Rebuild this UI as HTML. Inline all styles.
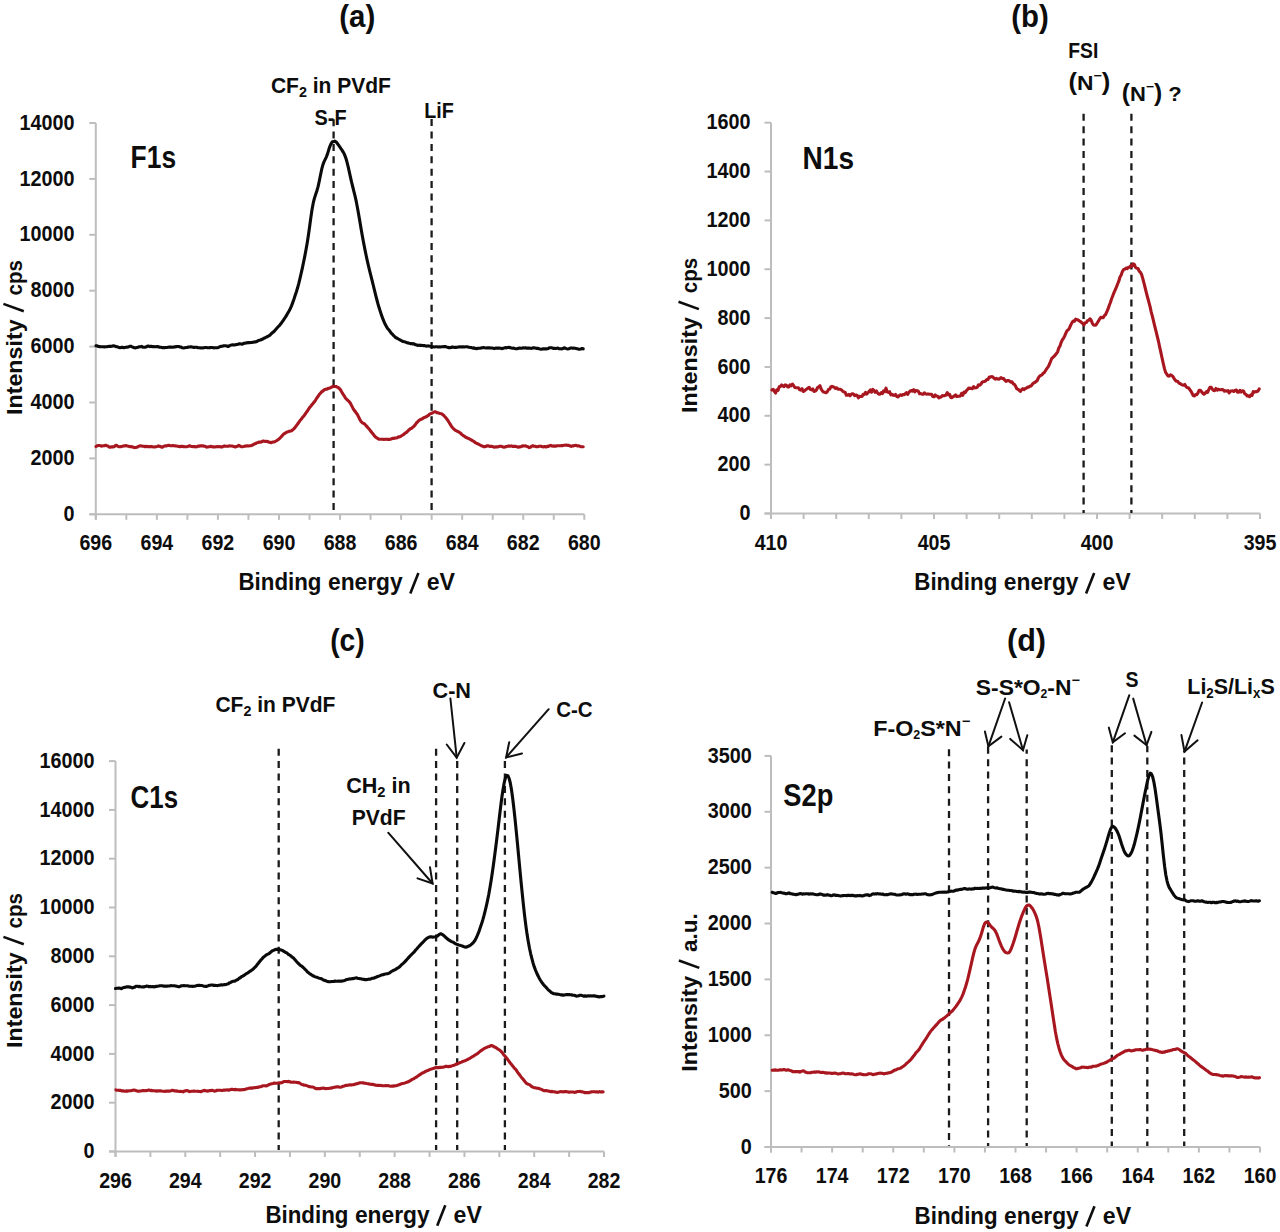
<!DOCTYPE html>
<html><head><meta charset="utf-8"><title>XPS spectra</title>
<style>html,body{margin:0;padding:0;background:#fff;} svg{display:block;} text{font-family:"Liberation Sans", sans-serif;font-weight:bold;fill:#0d0d0d;}</style>
</head><body>
<svg width="1280" height="1232" viewBox="0 0 1280 1232">
<rect width="1280" height="1232" fill="#fff"/>
<line x1="95.8" y1="122.99999999999994" x2="95.8" y2="519.8" stroke="#bdbdbd" stroke-width="2.0"/>
<line x1="89.3" y1="514.3" x2="584.3" y2="514.3" stroke="#bdbdbd" stroke-width="2.0"/>
<line x1="89.3" y1="514.30" x2="95.8" y2="514.30" stroke="#bdbdbd" stroke-width="2.0"/>
<line x1="89.3" y1="458.40" x2="95.8" y2="458.40" stroke="#bdbdbd" stroke-width="2.0"/>
<line x1="89.3" y1="402.50" x2="95.8" y2="402.50" stroke="#bdbdbd" stroke-width="2.0"/>
<line x1="89.3" y1="346.60" x2="95.8" y2="346.60" stroke="#bdbdbd" stroke-width="2.0"/>
<line x1="89.3" y1="290.70" x2="95.8" y2="290.70" stroke="#bdbdbd" stroke-width="2.0"/>
<line x1="89.3" y1="234.80" x2="95.8" y2="234.80" stroke="#bdbdbd" stroke-width="2.0"/>
<line x1="89.3" y1="178.90" x2="95.8" y2="178.90" stroke="#bdbdbd" stroke-width="2.0"/>
<line x1="89.3" y1="123.00" x2="95.8" y2="123.00" stroke="#bdbdbd" stroke-width="2.0"/>
<text x="74.6" y="520.9" font-size="21.2" text-anchor="end" textLength="11.0" lengthAdjust="spacingAndGlyphs" >0</text>
<text x="74.6" y="465.0" font-size="21.2" text-anchor="end" textLength="44.0" lengthAdjust="spacingAndGlyphs" >2000</text>
<text x="74.6" y="409.1" font-size="21.2" text-anchor="end" textLength="44.0" lengthAdjust="spacingAndGlyphs" >4000</text>
<text x="74.6" y="353.2" font-size="21.2" text-anchor="end" textLength="44.0" lengthAdjust="spacingAndGlyphs" >6000</text>
<text x="74.6" y="297.3" font-size="21.2" text-anchor="end" textLength="44.0" lengthAdjust="spacingAndGlyphs" >8000</text>
<text x="74.6" y="241.4" font-size="21.2" text-anchor="end" textLength="55.0" lengthAdjust="spacingAndGlyphs" >10000</text>
<text x="74.6" y="185.5" font-size="21.2" text-anchor="end" textLength="55.0" lengthAdjust="spacingAndGlyphs" >12000</text>
<text x="74.6" y="129.6" font-size="21.2" text-anchor="end" textLength="55.0" lengthAdjust="spacingAndGlyphs" >14000</text>
<line x1="95.80" y1="514.3" x2="95.80" y2="519.8" stroke="#bdbdbd" stroke-width="2.0"/>
<line x1="126.33" y1="514.3" x2="126.33" y2="519.8" stroke="#bdbdbd" stroke-width="2.0"/>
<line x1="156.86" y1="514.3" x2="156.86" y2="519.8" stroke="#bdbdbd" stroke-width="2.0"/>
<line x1="187.39" y1="514.3" x2="187.39" y2="519.8" stroke="#bdbdbd" stroke-width="2.0"/>
<line x1="217.92" y1="514.3" x2="217.92" y2="519.8" stroke="#bdbdbd" stroke-width="2.0"/>
<line x1="248.46" y1="514.3" x2="248.46" y2="519.8" stroke="#bdbdbd" stroke-width="2.0"/>
<line x1="278.99" y1="514.3" x2="278.99" y2="519.8" stroke="#bdbdbd" stroke-width="2.0"/>
<line x1="309.52" y1="514.3" x2="309.52" y2="519.8" stroke="#bdbdbd" stroke-width="2.0"/>
<line x1="340.05" y1="514.3" x2="340.05" y2="519.8" stroke="#bdbdbd" stroke-width="2.0"/>
<line x1="370.58" y1="514.3" x2="370.58" y2="519.8" stroke="#bdbdbd" stroke-width="2.0"/>
<line x1="401.11" y1="514.3" x2="401.11" y2="519.8" stroke="#bdbdbd" stroke-width="2.0"/>
<line x1="431.64" y1="514.3" x2="431.64" y2="519.8" stroke="#bdbdbd" stroke-width="2.0"/>
<line x1="462.17" y1="514.3" x2="462.17" y2="519.8" stroke="#bdbdbd" stroke-width="2.0"/>
<line x1="492.71" y1="514.3" x2="492.71" y2="519.8" stroke="#bdbdbd" stroke-width="2.0"/>
<line x1="523.24" y1="514.3" x2="523.24" y2="519.8" stroke="#bdbdbd" stroke-width="2.0"/>
<line x1="553.77" y1="514.3" x2="553.77" y2="519.8" stroke="#bdbdbd" stroke-width="2.0"/>
<line x1="584.30" y1="514.3" x2="584.30" y2="519.8" stroke="#bdbdbd" stroke-width="2.0"/>
<text x="95.8" y="550.0" font-size="21.2" text-anchor="middle" textLength="32.7" lengthAdjust="spacingAndGlyphs" >696</text>
<text x="156.9" y="550.0" font-size="21.2" text-anchor="middle" textLength="32.7" lengthAdjust="spacingAndGlyphs" >694</text>
<text x="217.9" y="550.0" font-size="21.2" text-anchor="middle" textLength="32.7" lengthAdjust="spacingAndGlyphs" >692</text>
<text x="279.0" y="550.0" font-size="21.2" text-anchor="middle" textLength="32.7" lengthAdjust="spacingAndGlyphs" >690</text>
<text x="340.0" y="550.0" font-size="21.2" text-anchor="middle" textLength="32.7" lengthAdjust="spacingAndGlyphs" >688</text>
<text x="401.1" y="550.0" font-size="21.2" text-anchor="middle" textLength="32.7" lengthAdjust="spacingAndGlyphs" >686</text>
<text x="462.2" y="550.0" font-size="21.2" text-anchor="middle" textLength="32.7" lengthAdjust="spacingAndGlyphs" >684</text>
<text x="523.2" y="550.0" font-size="21.2" text-anchor="middle" textLength="32.7" lengthAdjust="spacingAndGlyphs" >682</text>
<text x="584.3" y="550.0" font-size="21.2" text-anchor="middle" textLength="32.7" lengthAdjust="spacingAndGlyphs" >680</text>
<text x="357.2" y="26.6" font-size="30.5" text-anchor="middle" textLength="36.0" lengthAdjust="spacingAndGlyphs" >(a)</text>
<text x="238.5" y="590.4" font-size="23" text-anchor="start" textLength="83.0" lengthAdjust="spacingAndGlyphs" >Binding</text>
<text x="328.0" y="590.4" font-size="23" text-anchor="start" textLength="74.7" lengthAdjust="spacingAndGlyphs" >energy</text>
<line x1="410.3" y1="593.4" x2="418.4" y2="573.0" stroke="#0d0d0d" stroke-width="2.6" stroke-linecap="butt"/>
<text x="426.7" y="590.4" font-size="23" text-anchor="start" textLength="28.3" lengthAdjust="spacingAndGlyphs" >eV</text>
<text transform="translate(21.9,414.2) rotate(-90)" font-size="22" x="-0.9" textLength="95.9" lengthAdjust="spacingAndGlyphs">Intensity</text>
<line x1="23.8" y1="311.3" x2="3.4" y2="303.9" stroke="#0d0d0d" stroke-width="2.6" stroke-linecap="butt"/>
<text transform="translate(21.9,414.2) rotate(-90)" font-size="22" x="118.8" textLength="35.3" lengthAdjust="spacingAndGlyphs">cps</text>
<text x="130.6" y="167.6" font-size="31.5" text-anchor="start" textLength="45.5" lengthAdjust="spacingAndGlyphs" >F1s</text>
<text x="270.9" y="93.2" font-size="22" text-anchor="start" textLength="120.0" lengthAdjust="spacingAndGlyphs" >CF<tspan font-size="15" dy="3.5">2</tspan><tspan dy="-3.5"> in PVdF</tspan></text>
<text x="314.6" y="125.0" font-size="22.5" text-anchor="start" textLength="32.0" lengthAdjust="spacingAndGlyphs" >S-F</text>
<text x="424.2" y="118.4" font-size="22.5" text-anchor="start" textLength="29.5" lengthAdjust="spacingAndGlyphs" >LiF</text>
<line x1="333.6" y1="118.0" x2="333.6" y2="512.0" stroke="#1a1a1a" stroke-width="2.3" stroke-dasharray="7.0 5.38" stroke-dashoffset="11.16"/>
<line x1="431.6" y1="119.0" x2="431.6" y2="512.0" stroke="#1a1a1a" stroke-width="2.3" stroke-dasharray="7.0 5.38" stroke-dashoffset="12.26"/>
<path d="M96.0,345.8 L97.2,345.9 L98.4,346.5 L99.6,346.6 L100.8,346.8 L102.0,346.7 L103.2,346.7 L104.4,346.9 L105.6,346.7 L106.8,346.8 L108.0,346.5 L109.2,346.4 L110.4,346.4 L111.6,346.2 L112.8,345.9 L114.0,345.9 L115.2,346.3 L116.4,346.8 L117.6,346.8 L118.8,347.5 L120.0,347.8 L121.2,347.4 L122.4,347.2 L123.6,347.7 L124.8,347.5 L126.0,347.3 L127.2,347.1 L128.4,347.0 L129.6,346.3 L130.8,346.2 L132.0,346.9 L133.2,347.3 L134.4,347.7 L135.6,347.9 L136.8,347.5 L138.0,347.2 L139.2,346.7 L140.4,346.7 L141.6,346.4 L142.8,347.1 L144.0,347.3 L145.2,347.2 L146.4,346.8 L147.6,346.1 L148.8,346.1 L150.0,346.6 L151.2,346.3 L152.4,346.7 L153.6,346.5 L154.8,346.7 L156.0,346.8 L157.2,346.5 L158.4,346.7 L159.6,347.2 L160.8,347.3 L162.0,347.6 L163.2,347.5 L164.4,347.8 L165.6,347.5 L166.8,347.5 L168.0,347.3 L169.2,347.1 L170.4,347.1 L171.6,347.1 L172.8,347.2 L174.0,346.9 L175.2,346.9 L176.4,346.6 L177.6,346.5 L178.8,346.5 L180.0,347.0 L181.2,347.1 L182.4,347.8 L183.6,348.0 L184.8,347.7 L186.0,347.5 L187.2,347.5 L188.4,347.0 L189.6,347.0 L190.8,346.7 L192.0,347.0 L193.2,347.4 L194.4,347.4 L195.6,347.2 L196.8,347.3 L198.0,347.7 L199.2,347.8 L200.4,347.9 L201.6,348.0 L202.8,347.9 L204.0,347.8 L205.2,347.5 L206.4,347.5 L207.6,347.8 L208.8,347.7 L210.0,347.6 L211.2,347.5 L212.4,347.5 L213.6,347.9 L214.8,347.7 L216.0,347.8 L217.2,347.7 L218.4,347.4 L219.6,346.8 L220.8,346.4 L222.0,346.2 L223.2,345.9 L224.4,345.8 L225.6,345.8 L226.8,346.0 L228.0,346.5 L229.2,346.0 L230.4,345.2 L231.6,345.0 L232.8,344.8 L234.0,345.0 L235.2,344.9 L236.4,344.5 L237.6,344.5 L238.8,343.8 L240.0,343.9 L241.2,344.0 L242.4,344.1 L243.6,343.4 L244.8,343.2 L246.0,342.9 L247.2,342.9 L248.4,342.5 L249.6,342.6 L250.8,342.5 L252.0,342.4 L253.2,342.2 L254.4,341.9 L255.6,341.9 L256.8,341.6 L258.0,340.7 L259.2,340.3 L260.4,340.0 L261.6,339.5 L262.8,339.0 L264.0,338.2 L265.2,337.7 L266.4,337.1 L267.6,336.5 L268.8,335.8 L270.0,335.1 L271.2,333.8 L272.4,332.8 L273.6,331.8 L274.8,330.6 L276.0,329.2 L277.2,327.8 L278.4,326.5 L279.6,325.3 L280.8,323.8 L282.0,322.1 L283.2,320.5 L284.4,318.6 L285.6,316.9 L286.8,314.9 L288.0,312.8 L289.2,310.8 L290.4,308.4 L291.6,305.6 L292.8,302.4 L294.0,299.0 L295.2,295.3 L296.4,291.7 L297.6,287.8 L298.8,283.4 L300.0,278.4 L301.2,273.2 L302.4,267.8 L303.6,262.0 L304.8,256.1 L306.0,249.8 L307.2,242.9 L308.4,235.2 L309.6,226.7 L310.8,217.9 L312.0,209.8 L313.2,203.2 L314.4,198.4 L315.6,194.6 L316.8,191.0 L318.0,186.9 L319.2,181.5 L320.4,175.5 L321.6,169.7 L322.8,165.1 L324.0,161.8 L325.2,159.3 L326.4,156.8 L327.6,153.6 L328.8,149.6 L330.0,146.1 L331.2,143.5 L332.4,141.7 L333.6,141.6 L334.8,141.1 L336.0,141.8 L337.2,143.3 L338.4,144.9 L339.6,146.6 L340.8,148.4 L342.0,150.1 L343.2,152.1 L344.4,154.3 L345.6,157.3 L346.8,161.3 L348.0,166.1 L349.2,171.4 L350.4,176.8 L351.6,182.2 L352.8,187.0 L354.0,191.9 L355.2,196.7 L356.4,202.2 L357.6,208.5 L358.8,215.2 L360.0,222.3 L361.2,229.5 L362.4,236.3 L363.6,242.8 L364.8,248.9 L366.0,254.8 L367.2,260.4 L368.4,265.7 L369.6,270.7 L370.8,275.4 L372.0,280.1 L373.2,285.0 L374.4,289.9 L375.6,294.9 L376.8,299.5 L378.0,304.0 L379.2,308.1 L380.4,311.8 L381.6,315.4 L382.8,318.7 L384.0,321.7 L385.2,324.3 L386.4,326.4 L387.6,328.5 L388.8,329.8 L390.0,331.4 L391.2,333.1 L392.4,334.2 L393.6,335.6 L394.8,336.7 L396.0,337.7 L397.2,338.2 L398.4,339.0 L399.6,339.7 L400.8,340.3 L402.0,341.0 L403.2,341.5 L404.4,341.7 L405.6,342.1 L406.8,342.7 L408.0,342.9 L409.2,343.3 L410.4,343.6 L411.6,343.6 L412.8,343.9 L414.0,343.8 L415.2,344.6 L416.4,344.7 L417.6,345.5 L418.8,345.1 L420.0,345.4 L421.2,345.2 L422.4,345.5 L423.6,345.6 L424.8,345.6 L426.0,346.1 L427.2,346.0 L428.4,345.9 L429.6,346.3 L430.8,346.3 L432.0,346.6 L433.2,346.8 L434.4,347.0 L435.6,346.8 L436.8,346.8 L438.0,347.0 L439.2,346.9 L440.4,347.0 L441.6,346.7 L442.8,346.8 L444.0,346.6 L445.2,346.5 L446.4,346.9 L447.6,347.2 L448.8,347.8 L450.0,347.6 L451.2,347.5 L452.4,346.9 L453.6,347.2 L454.8,347.4 L456.0,347.4 L457.2,347.3 L458.4,347.0 L459.6,346.8 L460.8,347.0 L462.0,346.8 L463.2,346.9 L464.4,347.0 L465.6,346.8 L466.8,346.7 L468.0,347.0 L469.2,347.3 L470.4,347.5 L471.6,347.6 L472.8,348.1 L474.0,347.9 L475.2,348.5 L476.4,348.6 L477.6,348.4 L478.8,348.3 L480.0,348.2 L481.2,347.9 L482.4,347.7 L483.6,347.5 L484.8,347.8 L486.0,348.0 L487.2,347.9 L488.4,347.8 L489.6,347.9 L490.8,348.0 L492.0,348.0 L493.2,348.3 L494.4,348.6 L495.6,348.1 L496.8,348.0 L498.0,348.1 L499.2,348.0 L500.4,348.3 L501.6,348.6 L502.8,348.4 L504.0,348.1 L505.2,347.6 L506.4,347.9 L507.6,347.5 L508.8,347.4 L510.0,347.6 L511.2,347.9 L512.4,348.3 L513.6,348.1 L514.8,348.5 L516.0,348.8 L517.2,348.7 L518.4,348.3 L519.6,348.1 L520.8,348.3 L522.0,348.2 L523.2,347.8 L524.4,348.0 L525.6,347.8 L526.8,348.2 L528.0,348.0 L529.2,348.1 L530.4,348.3 L531.6,348.4 L532.8,347.8 L534.0,347.9 L535.2,348.0 L536.4,348.4 L537.6,348.4 L538.8,348.6 L540.0,349.0 L541.2,349.2 L542.4,348.9 L543.6,348.9 L544.8,348.9 L546.0,348.9 L547.2,348.7 L548.4,348.4 L549.6,347.7 L550.8,347.7 L552.0,347.8 L553.2,348.4 L554.4,348.3 L555.6,348.5 L556.8,348.2 L558.0,348.1 L559.2,348.8 L560.4,348.8 L561.6,348.9 L562.8,348.6 L564.0,347.9 L565.2,348.1 L566.4,348.6 L567.6,349.0 L568.8,348.7 L570.0,348.3 L571.2,347.9 L572.4,348.3 L573.6,348.1 L574.8,348.3 L576.0,348.5 L577.2,348.8 L578.4,349.1 L579.6,349.3 L580.8,349.0 L582.0,348.5 L583.2,348.8" fill="none" stroke="#0a0a0a" stroke-width="3.1" stroke-linejoin="round" stroke-linecap="round"/>
<path d="M96.0,446.5 L97.2,445.8 L98.4,445.5 L99.6,445.5 L100.8,445.9 L102.0,446.1 L103.2,445.8 L104.4,445.7 L105.6,445.3 L106.8,445.8 L108.0,446.1 L109.2,447.1 L110.4,447.1 L111.6,446.9 L112.8,446.9 L114.0,446.7 L115.2,445.7 L116.4,445.3 L117.6,446.1 L118.8,446.7 L120.0,446.8 L121.2,446.6 L122.4,446.2 L123.6,445.9 L124.8,445.9 L126.0,445.6 L127.2,445.9 L128.4,446.2 L129.6,446.6 L130.8,446.5 L132.0,446.9 L133.2,447.1 L134.4,447.6 L135.6,447.5 L136.8,447.3 L138.0,446.8 L139.2,446.0 L140.4,445.9 L141.6,446.0 L142.8,446.3 L144.0,446.2 L145.2,446.7 L146.4,446.3 L147.6,446.8 L148.8,446.6 L150.0,446.8 L151.2,446.4 L152.4,446.7 L153.6,447.0 L154.8,446.9 L156.0,446.7 L157.2,446.4 L158.4,445.9 L159.6,446.2 L160.8,446.7 L162.0,447.2 L163.2,446.7 L164.4,446.0 L165.6,445.7 L166.8,445.9 L168.0,445.4 L169.2,445.4 L170.4,445.8 L171.6,445.7 L172.8,445.5 L174.0,445.8 L175.2,445.9 L176.4,446.0 L177.6,446.2 L178.8,446.4 L180.0,446.7 L181.2,446.3 L182.4,446.4 L183.6,446.6 L184.8,446.8 L186.0,446.7 L187.2,446.6 L188.4,446.3 L189.6,445.8 L190.8,446.2 L192.0,446.5 L193.2,446.6 L194.4,446.5 L195.6,446.9 L196.8,446.8 L198.0,446.1 L199.2,446.2 L200.4,445.7 L201.6,445.9 L202.8,445.8 L204.0,446.2 L205.2,446.2 L206.4,447.1 L207.6,447.0 L208.8,446.7 L210.0,446.6 L211.2,446.3 L212.4,446.9 L213.6,446.9 L214.8,447.0 L216.0,446.7 L217.2,446.6 L218.4,446.8 L219.6,446.6 L220.8,446.9 L222.0,447.0 L223.2,446.4 L224.4,445.9 L225.6,446.2 L226.8,446.2 L228.0,446.2 L229.2,445.9 L230.4,446.0 L231.6,446.0 L232.8,446.3 L234.0,446.6 L235.2,447.0 L236.4,446.5 L237.6,446.2 L238.8,445.3 L240.0,446.0 L241.2,446.6 L242.4,446.8 L243.6,446.5 L244.8,446.1 L246.0,446.1 L247.2,445.8 L248.4,446.0 L249.6,445.7 L250.8,445.7 L252.0,445.3 L253.2,444.6 L254.4,444.0 L255.6,443.5 L256.8,442.9 L258.0,442.5 L259.2,442.0 L260.4,442.2 L261.6,441.8 L262.8,441.1 L264.0,441.1 L265.2,441.5 L266.4,441.2 L267.6,441.5 L268.8,442.1 L270.0,442.2 L271.2,442.7 L272.4,442.1 L273.6,442.0 L274.8,441.7 L276.0,441.0 L277.2,440.3 L278.4,439.4 L279.6,438.5 L280.8,437.2 L282.0,435.9 L283.2,434.5 L284.4,433.6 L285.6,432.9 L286.8,432.1 L288.0,431.7 L289.2,431.2 L290.4,431.1 L291.6,430.7 L292.8,429.8 L294.0,428.7 L295.2,427.2 L296.4,425.6 L297.6,424.0 L298.8,422.3 L300.0,420.6 L301.2,419.2 L302.4,417.6 L303.6,416.2 L304.8,414.7 L306.0,412.9 L307.2,411.3 L308.4,409.4 L309.6,407.6 L310.8,406.2 L312.0,404.6 L313.2,403.3 L314.4,401.7 L315.6,400.1 L316.8,398.0 L318.0,396.5 L319.2,394.6 L320.4,393.2 L321.6,391.9 L322.8,391.1 L324.0,390.0 L325.2,389.4 L326.4,389.3 L327.6,388.6 L328.8,388.4 L330.0,388.0 L331.2,387.3 L332.4,386.7 L333.6,386.2 L334.8,386.5 L336.0,386.5 L337.2,387.1 L338.4,387.7 L339.6,388.7 L340.8,390.3 L342.0,392.4 L343.2,394.4 L344.4,396.2 L345.6,398.2 L346.8,399.5 L348.0,400.5 L349.2,401.7 L350.4,403.3 L351.6,405.6 L352.8,407.9 L354.0,410.0 L355.2,411.5 L356.4,413.1 L357.6,414.9 L358.8,417.4 L360.0,419.8 L361.2,421.7 L362.4,422.8 L363.6,423.4 L364.8,424.1 L366.0,425.6 L367.2,426.9 L368.4,428.2 L369.6,429.6 L370.8,431.2 L372.0,432.8 L373.2,434.1 L374.4,435.9 L375.6,437.0 L376.8,437.9 L378.0,438.6 L379.2,439.3 L380.4,439.2 L381.6,439.2 L382.8,439.2 L384.0,439.5 L385.2,439.2 L386.4,439.2 L387.6,439.4 L388.8,439.3 L390.0,439.4 L391.2,439.0 L392.4,438.4 L393.6,438.4 L394.8,438.1 L396.0,438.0 L397.2,437.7 L398.4,436.9 L399.6,436.9 L400.8,436.3 L402.0,435.5 L403.2,434.7 L404.4,433.7 L405.6,432.9 L406.8,432.1 L408.0,430.9 L409.2,429.7 L410.4,428.7 L411.6,428.3 L412.8,427.2 L414.0,426.3 L415.2,424.8 L416.4,423.0 L417.6,421.9 L418.8,420.5 L420.0,419.7 L421.2,419.2 L422.4,418.7 L423.6,417.9 L424.8,417.2 L426.0,416.9 L427.2,416.1 L428.4,415.4 L429.6,414.2 L430.8,413.6 L432.0,413.2 L433.2,412.5 L434.4,411.7 L435.6,411.8 L436.8,412.6 L438.0,412.8 L439.2,413.2 L440.4,413.5 L441.6,413.7 L442.8,414.8 L444.0,415.6 L445.2,417.1 L446.4,418.5 L447.6,420.0 L448.8,422.0 L450.0,423.9 L451.2,425.8 L452.4,427.5 L453.6,428.8 L454.8,429.9 L456.0,430.6 L457.2,431.2 L458.4,431.7 L459.6,432.5 L460.8,433.4 L462.0,434.6 L463.2,435.6 L464.4,436.2 L465.6,437.2 L466.8,437.8 L468.0,438.3 L469.2,438.7 L470.4,439.5 L471.6,440.1 L472.8,440.8 L474.0,441.5 L475.2,442.6 L476.4,443.2 L477.6,443.7 L478.8,444.3 L480.0,445.0 L481.2,445.7 L482.4,446.0 L483.6,446.8 L484.8,446.6 L486.0,446.4 L487.2,445.7 L488.4,445.9 L489.6,446.4 L490.8,446.4 L492.0,446.4 L493.2,446.8 L494.4,447.2 L495.6,446.9 L496.8,446.7 L498.0,446.9 L499.2,446.4 L500.4,446.3 L501.6,446.3 L502.8,447.0 L504.0,447.1 L505.2,447.0 L506.4,446.5 L507.6,446.2 L508.8,445.9 L510.0,446.3 L511.2,445.9 L512.4,446.4 L513.6,446.4 L514.8,446.2 L516.0,446.5 L517.2,446.9 L518.4,447.1 L519.6,446.9 L520.8,446.8 L522.0,446.1 L523.2,445.9 L524.4,446.0 L525.6,445.8 L526.8,446.5 L528.0,446.8 L529.2,447.6 L530.4,447.2 L531.6,446.3 L532.8,445.7 L534.0,446.3 L535.2,446.3 L536.4,446.8 L537.6,446.8 L538.8,446.2 L540.0,446.3 L541.2,446.3 L542.4,446.8 L543.6,446.9 L544.8,446.5 L546.0,447.0 L547.2,446.4 L548.4,446.4 L549.6,445.7 L550.8,445.4 L552.0,446.0 L553.2,446.1 L554.4,445.9 L555.6,446.2 L556.8,445.8 L558.0,445.8 L559.2,445.8 L560.4,445.7 L561.6,445.5 L562.8,445.6 L564.0,445.3 L565.2,445.3 L566.4,445.0 L567.6,445.4 L568.8,445.3 L570.0,446.0 L571.2,446.4 L572.4,445.8 L573.6,445.9 L574.8,445.5 L576.0,445.4 L577.2,445.9 L578.4,445.7 L579.6,446.1 L580.8,446.7 L582.0,446.8 L583.2,446.8" fill="none" stroke="#a8161f" stroke-width="3.1" stroke-linejoin="round" stroke-linecap="round"/>
<line x1="771.0" y1="122.69999999999999" x2="771.0" y2="519.0" stroke="#bdbdbd" stroke-width="2.0"/>
<line x1="764.5" y1="513.5" x2="1260.0" y2="513.5" stroke="#bdbdbd" stroke-width="2.0"/>
<line x1="764.5" y1="513.50" x2="771.0" y2="513.50" stroke="#bdbdbd" stroke-width="2.0"/>
<line x1="764.5" y1="464.65" x2="771.0" y2="464.65" stroke="#bdbdbd" stroke-width="2.0"/>
<line x1="764.5" y1="415.80" x2="771.0" y2="415.80" stroke="#bdbdbd" stroke-width="2.0"/>
<line x1="764.5" y1="366.95" x2="771.0" y2="366.95" stroke="#bdbdbd" stroke-width="2.0"/>
<line x1="764.5" y1="318.10" x2="771.0" y2="318.10" stroke="#bdbdbd" stroke-width="2.0"/>
<line x1="764.5" y1="269.25" x2="771.0" y2="269.25" stroke="#bdbdbd" stroke-width="2.0"/>
<line x1="764.5" y1="220.40" x2="771.0" y2="220.40" stroke="#bdbdbd" stroke-width="2.0"/>
<line x1="764.5" y1="171.55" x2="771.0" y2="171.55" stroke="#bdbdbd" stroke-width="2.0"/>
<line x1="764.5" y1="122.70" x2="771.0" y2="122.70" stroke="#bdbdbd" stroke-width="2.0"/>
<text x="750.5" y="520.1" font-size="21.2" text-anchor="end" textLength="11.0" lengthAdjust="spacingAndGlyphs" >0</text>
<text x="750.5" y="471.2" font-size="21.2" text-anchor="end" textLength="33.0" lengthAdjust="spacingAndGlyphs" >200</text>
<text x="750.5" y="422.4" font-size="21.2" text-anchor="end" textLength="33.0" lengthAdjust="spacingAndGlyphs" >400</text>
<text x="750.5" y="373.6" font-size="21.2" text-anchor="end" textLength="33.0" lengthAdjust="spacingAndGlyphs" >600</text>
<text x="750.5" y="324.7" font-size="21.2" text-anchor="end" textLength="33.0" lengthAdjust="spacingAndGlyphs" >800</text>
<text x="750.5" y="275.9" font-size="21.2" text-anchor="end" textLength="44.0" lengthAdjust="spacingAndGlyphs" >1000</text>
<text x="750.5" y="227.0" font-size="21.2" text-anchor="end" textLength="44.0" lengthAdjust="spacingAndGlyphs" >1200</text>
<text x="750.5" y="178.2" font-size="21.2" text-anchor="end" textLength="44.0" lengthAdjust="spacingAndGlyphs" >1400</text>
<text x="750.5" y="129.3" font-size="21.2" text-anchor="end" textLength="44.0" lengthAdjust="spacingAndGlyphs" >1600</text>
<line x1="771.00" y1="513.5" x2="771.00" y2="519.0" stroke="#bdbdbd" stroke-width="2.0"/>
<line x1="803.60" y1="513.5" x2="803.60" y2="519.0" stroke="#bdbdbd" stroke-width="2.0"/>
<line x1="836.20" y1="513.5" x2="836.20" y2="519.0" stroke="#bdbdbd" stroke-width="2.0"/>
<line x1="868.80" y1="513.5" x2="868.80" y2="519.0" stroke="#bdbdbd" stroke-width="2.0"/>
<line x1="901.40" y1="513.5" x2="901.40" y2="519.0" stroke="#bdbdbd" stroke-width="2.0"/>
<line x1="934.00" y1="513.5" x2="934.00" y2="519.0" stroke="#bdbdbd" stroke-width="2.0"/>
<line x1="966.60" y1="513.5" x2="966.60" y2="519.0" stroke="#bdbdbd" stroke-width="2.0"/>
<line x1="999.20" y1="513.5" x2="999.20" y2="519.0" stroke="#bdbdbd" stroke-width="2.0"/>
<line x1="1031.80" y1="513.5" x2="1031.80" y2="519.0" stroke="#bdbdbd" stroke-width="2.0"/>
<line x1="1064.40" y1="513.5" x2="1064.40" y2="519.0" stroke="#bdbdbd" stroke-width="2.0"/>
<line x1="1097.00" y1="513.5" x2="1097.00" y2="519.0" stroke="#bdbdbd" stroke-width="2.0"/>
<line x1="1129.60" y1="513.5" x2="1129.60" y2="519.0" stroke="#bdbdbd" stroke-width="2.0"/>
<line x1="1162.20" y1="513.5" x2="1162.20" y2="519.0" stroke="#bdbdbd" stroke-width="2.0"/>
<line x1="1194.80" y1="513.5" x2="1194.80" y2="519.0" stroke="#bdbdbd" stroke-width="2.0"/>
<line x1="1227.40" y1="513.5" x2="1227.40" y2="519.0" stroke="#bdbdbd" stroke-width="2.0"/>
<line x1="1260.00" y1="513.5" x2="1260.00" y2="519.0" stroke="#bdbdbd" stroke-width="2.0"/>
<text x="771.0" y="550.0" font-size="21.2" text-anchor="middle" textLength="32.7" lengthAdjust="spacingAndGlyphs" >410</text>
<text x="934.0" y="550.0" font-size="21.2" text-anchor="middle" textLength="32.7" lengthAdjust="spacingAndGlyphs" >405</text>
<text x="1097.0" y="550.0" font-size="21.2" text-anchor="middle" textLength="32.7" lengthAdjust="spacingAndGlyphs" >400</text>
<text x="1260.0" y="550.0" font-size="21.2" text-anchor="middle" textLength="32.7" lengthAdjust="spacingAndGlyphs" >395</text>
<text x="1030.0" y="26.6" font-size="30.5" text-anchor="middle" textLength="37.5" lengthAdjust="spacingAndGlyphs" >(b)</text>
<text x="914.3" y="590.4" font-size="23" text-anchor="start" textLength="83.0" lengthAdjust="spacingAndGlyphs" >Binding</text>
<text x="1003.8" y="590.4" font-size="23" text-anchor="start" textLength="74.7" lengthAdjust="spacingAndGlyphs" >energy</text>
<line x1="1086.1" y1="593.4" x2="1094.2" y2="573.0" stroke="#0d0d0d" stroke-width="2.6" stroke-linecap="butt"/>
<text x="1102.5" y="590.4" font-size="23" text-anchor="start" textLength="28.3" lengthAdjust="spacingAndGlyphs" >eV</text>
<text transform="translate(697.0,412.0) rotate(-90)" font-size="22" x="-0.9" textLength="95.9" lengthAdjust="spacingAndGlyphs">Intensity</text>
<line x1="698.9" y1="309.1" x2="678.5" y2="301.7" stroke="#0d0d0d" stroke-width="2.6" stroke-linecap="butt"/>
<text transform="translate(697.0,412.0) rotate(-90)" font-size="22" x="118.8" textLength="35.3" lengthAdjust="spacingAndGlyphs">cps</text>
<text x="802.6" y="169.3" font-size="31.5" text-anchor="start" textLength="51.5" lengthAdjust="spacingAndGlyphs" >N1s</text>
<text x="1068.3" y="58.3" font-size="21.5" text-anchor="start" textLength="30.0" lengthAdjust="spacingAndGlyphs" >FSI</text>
<text x="1068.4" y="89.8" font-size="20.5" text-anchor="start" textLength="42.0" lengthAdjust="spacingAndGlyphs" ><tspan font-size="23">(</tspan>N<tspan font-size="13" dy="-9.5">−</tspan><tspan dy="9.5" font-size="23">)</tspan></text>
<text x="1121.8" y="100.5" font-size="20.5" text-anchor="start" textLength="60.0" lengthAdjust="spacingAndGlyphs" ><tspan font-size="23">(</tspan>N<tspan font-size="13" dy="-9.5">−</tspan><tspan dy="9.5" font-size="23">)</tspan> ?</text>
<line x1="1083.6" y1="113.8" x2="1083.6" y2="513.0" stroke="#1a1a1a" stroke-width="2.3" stroke-dasharray="7.0 5.38" stroke-dashoffset="12.34"/>
<line x1="1131.4" y1="113.8" x2="1131.4" y2="513.0" stroke="#1a1a1a" stroke-width="2.3" stroke-dasharray="7.0 5.38" stroke-dashoffset="12.34"/>
<path d="M772.0,390.0 L773.2,389.4 L774.4,391.4 L775.6,393.0 L776.8,389.8 L778.0,390.4 L779.2,386.7 L780.4,386.5 L781.6,384.9 L782.8,386.0 L784.0,386.7 L785.2,384.9 L786.4,385.3 L787.6,386.9 L788.8,386.9 L790.0,384.8 L791.2,385.8 L792.4,384.1 L793.6,385.5 L794.8,387.5 L796.0,387.7 L797.2,387.7 L798.4,387.7 L799.6,389.8 L800.8,390.1 L802.0,388.7 L803.2,391.5 L804.4,390.9 L805.6,389.8 L806.8,389.0 L808.0,388.1 L809.2,387.4 L810.4,389.4 L811.6,389.9 L812.8,389.0 L814.0,391.4 L815.2,391.1 L816.4,390.0 L817.6,387.5 L818.8,386.8 L820.0,385.7 L821.2,389.2 L822.4,391.0 L823.6,391.9 L824.8,392.2 L826.0,392.7 L827.2,391.9 L828.4,389.6 L829.6,389.3 L830.8,387.0 L832.0,386.4 L833.2,386.8 L834.4,387.4 L835.6,388.5 L836.8,387.8 L838.0,389.1 L839.2,389.3 L840.4,389.3 L841.6,390.0 L842.8,391.3 L844.0,392.0 L845.2,392.4 L846.4,395.3 L847.6,395.3 L848.8,394.4 L850.0,395.8 L851.2,394.3 L852.4,393.7 L853.6,394.2 L854.8,395.7 L856.0,395.0 L857.2,395.5 L858.4,397.8 L859.6,396.4 L860.8,396.5 L862.0,396.5 L863.2,394.2 L864.4,394.4 L865.6,392.4 L866.8,394.0 L868.0,392.7 L869.2,391.4 L870.4,389.9 L871.6,392.2 L872.8,389.4 L874.0,390.6 L875.2,392.3 L876.4,391.0 L877.6,393.0 L878.8,394.2 L880.0,394.1 L881.2,392.6 L882.4,393.6 L883.6,390.9 L884.8,391.6 L886.0,388.2 L887.2,391.8 L888.4,392.5 L889.6,391.7 L890.8,394.8 L892.0,394.3 L893.2,395.3 L894.4,395.4 L895.6,394.4 L896.8,396.6 L898.0,396.9 L899.2,395.6 L900.4,394.9 L901.6,395.4 L902.8,394.5 L904.0,394.7 L905.2,393.9 L906.4,392.7 L907.6,394.4 L908.8,392.5 L910.0,391.2 L911.2,390.5 L912.4,391.1 L913.6,389.7 L914.8,391.8 L916.0,390.4 L917.2,390.7 L918.4,391.4 L919.6,393.7 L920.8,393.6 L922.0,394.2 L923.2,394.2 L924.4,392.8 L925.6,393.9 L926.8,394.3 L928.0,393.9 L929.2,394.3 L930.4,394.3 L931.6,394.2 L932.8,396.5 L934.0,396.8 L935.2,395.0 L936.4,395.9 L937.6,396.2 L938.8,397.9 L940.0,397.1 L941.2,396.9 L942.4,395.6 L943.6,395.7 L944.8,395.6 L946.0,395.1 L947.2,392.6 L948.4,394.8 L949.6,394.4 L950.8,397.4 L952.0,397.7 L953.2,396.6 L954.4,396.0 L955.6,394.9 L956.8,396.6 L958.0,396.2 L959.2,396.2 L960.4,395.9 L961.6,393.4 L962.8,395.3 L964.0,392.0 L965.2,392.7 L966.4,390.7 L967.6,389.5 L968.8,388.0 L970.0,388.5 L971.2,388.2 L972.4,388.7 L973.6,386.7 L974.8,387.9 L976.0,387.8 L977.2,387.4 L978.4,384.9 L979.6,385.2 L980.8,384.3 L982.0,382.4 L983.2,381.7 L984.4,381.5 L985.6,380.9 L986.8,379.5 L988.0,379.5 L989.2,377.1 L990.4,377.2 L991.6,376.5 L992.8,376.9 L994.0,378.2 L995.2,379.1 L996.4,378.3 L997.6,379.0 L998.8,379.2 L1000.0,378.4 L1001.2,377.7 L1002.4,378.6 L1003.6,378.5 L1004.8,380.2 L1006.0,381.3 L1007.2,380.6 L1008.4,380.5 L1009.6,381.1 L1010.8,382.2 L1012.0,381.8 L1013.2,383.8 L1014.4,384.4 L1015.6,386.1 L1016.8,388.9 L1018.0,389.3 L1019.2,390.3 L1020.4,391.4 L1021.6,389.8 L1022.8,388.6 L1024.0,389.7 L1025.2,388.5 L1026.4,388.2 L1027.6,387.1 L1028.8,387.2 L1030.0,386.1 L1031.2,386.0 L1032.4,384.2 L1033.6,383.0 L1034.8,382.5 L1036.0,381.6 L1037.2,380.5 L1038.4,377.9 L1039.6,376.2 L1040.8,375.4 L1042.0,374.9 L1043.2,373.3 L1044.4,372.4 L1045.6,370.5 L1046.8,368.6 L1048.0,367.1 L1049.2,364.7 L1050.4,361.8 L1051.6,358.7 L1052.8,357.5 L1054.0,356.4 L1055.2,355.1 L1056.4,353.5 L1057.6,351.8 L1058.8,348.1 L1060.0,345.9 L1061.2,342.3 L1062.4,339.7 L1063.6,338.1 L1064.8,335.7 L1066.0,332.8 L1067.2,330.5 L1068.4,329.7 L1069.6,327.7 L1070.8,324.9 L1072.0,322.6 L1073.2,321.0 L1074.4,321.4 L1075.6,319.1 L1076.8,319.7 L1078.0,319.9 L1079.2,320.8 L1080.4,321.6 L1081.6,322.5 L1082.8,323.6 L1084.0,324.8 L1085.2,322.7 L1086.4,322.5 L1087.6,320.6 L1088.8,320.2 L1090.0,318.8 L1091.2,320.3 L1092.4,323.4 L1093.6,325.0 L1094.8,325.3 L1096.0,325.0 L1097.2,323.0 L1098.4,321.2 L1099.6,319.1 L1100.8,317.3 L1102.0,317.6 L1103.2,317.7 L1104.4,315.6 L1105.6,314.5 L1106.8,311.8 L1108.0,309.2 L1109.2,305.5 L1110.4,302.5 L1111.6,298.8 L1112.8,295.7 L1114.0,292.7 L1115.2,289.9 L1116.4,287.1 L1117.6,284.0 L1118.8,281.2 L1120.0,277.0 L1121.2,275.0 L1122.4,271.5 L1123.6,269.6 L1124.8,269.3 L1126.0,268.0 L1127.2,268.6 L1128.4,267.3 L1129.6,267.3 L1130.8,265.6 L1132.0,266.3 L1133.2,263.8 L1134.4,264.6 L1135.6,267.5 L1136.8,268.3 L1138.0,268.5 L1139.2,271.1 L1140.4,272.3 L1141.6,274.5 L1142.8,278.6 L1144.0,283.2 L1145.2,288.0 L1146.4,292.9 L1147.6,297.5 L1148.8,301.8 L1150.0,306.4 L1151.2,311.8 L1152.4,316.3 L1153.6,321.4 L1154.8,326.3 L1156.0,331.2 L1157.2,336.2 L1158.4,341.0 L1159.6,346.8 L1160.8,352.1 L1162.0,357.7 L1163.2,363.1 L1164.4,368.4 L1165.6,372.4 L1166.8,374.1 L1168.0,376.0 L1169.2,376.1 L1170.4,374.9 L1171.6,375.3 L1172.8,376.4 L1174.0,378.4 L1175.2,380.1 L1176.4,381.3 L1177.6,381.2 L1178.8,383.0 L1180.0,383.5 L1181.2,384.3 L1182.4,385.0 L1183.6,385.3 L1184.8,384.5 L1186.0,386.6 L1187.2,387.6 L1188.4,387.7 L1189.6,389.3 L1190.8,391.0 L1192.0,393.1 L1193.2,395.6 L1194.4,395.9 L1195.6,394.6 L1196.8,394.7 L1198.0,392.9 L1199.2,390.2 L1200.4,390.2 L1201.6,391.7 L1202.8,393.3 L1204.0,394.2 L1205.2,393.3 L1206.4,391.7 L1207.6,392.3 L1208.8,389.4 L1210.0,387.3 L1211.2,387.3 L1212.4,389.3 L1213.6,390.4 L1214.8,390.6 L1216.0,388.5 L1217.2,390.2 L1218.4,389.3 L1219.6,389.7 L1220.8,389.8 L1222.0,389.6 L1223.2,389.8 L1224.4,391.2 L1225.6,390.8 L1226.8,391.1 L1228.0,390.7 L1229.2,392.9 L1230.4,391.1 L1231.6,391.0 L1232.8,390.9 L1234.0,391.5 L1235.2,390.2 L1236.4,390.0 L1237.6,392.2 L1238.8,392.3 L1240.0,390.3 L1241.2,392.0 L1242.4,390.7 L1243.6,391.2 L1244.8,393.9 L1246.0,394.4 L1247.2,396.0 L1248.4,395.7 L1249.6,396.7 L1250.8,394.9 L1252.0,395.5 L1253.2,391.6 L1254.4,392.2 L1255.6,391.5 L1256.8,391.6 L1258.0,391.0 L1259.2,388.9" fill="none" stroke="#a8161f" stroke-width="3.1" stroke-linejoin="round" stroke-linecap="round"/>
<line x1="115.5" y1="761.1" x2="115.5" y2="1157.0" stroke="#bdbdbd" stroke-width="2.0"/>
<line x1="109.0" y1="1151.5" x2="604.0" y2="1151.5" stroke="#bdbdbd" stroke-width="2.0"/>
<line x1="109.0" y1="1151.50" x2="115.5" y2="1151.50" stroke="#bdbdbd" stroke-width="2.0"/>
<line x1="109.0" y1="1102.70" x2="115.5" y2="1102.70" stroke="#bdbdbd" stroke-width="2.0"/>
<line x1="109.0" y1="1053.90" x2="115.5" y2="1053.90" stroke="#bdbdbd" stroke-width="2.0"/>
<line x1="109.0" y1="1005.10" x2="115.5" y2="1005.10" stroke="#bdbdbd" stroke-width="2.0"/>
<line x1="109.0" y1="956.30" x2="115.5" y2="956.30" stroke="#bdbdbd" stroke-width="2.0"/>
<line x1="109.0" y1="907.50" x2="115.5" y2="907.50" stroke="#bdbdbd" stroke-width="2.0"/>
<line x1="109.0" y1="858.70" x2="115.5" y2="858.70" stroke="#bdbdbd" stroke-width="2.0"/>
<line x1="109.0" y1="809.90" x2="115.5" y2="809.90" stroke="#bdbdbd" stroke-width="2.0"/>
<line x1="109.0" y1="761.10" x2="115.5" y2="761.10" stroke="#bdbdbd" stroke-width="2.0"/>
<text x="94.4" y="1158.1" font-size="21.2" text-anchor="end" textLength="11.0" lengthAdjust="spacingAndGlyphs" >0</text>
<text x="94.4" y="1109.3" font-size="21.2" text-anchor="end" textLength="44.0" lengthAdjust="spacingAndGlyphs" >2000</text>
<text x="94.4" y="1060.5" font-size="21.2" text-anchor="end" textLength="44.0" lengthAdjust="spacingAndGlyphs" >4000</text>
<text x="94.4" y="1011.7" font-size="21.2" text-anchor="end" textLength="44.0" lengthAdjust="spacingAndGlyphs" >6000</text>
<text x="94.4" y="962.9" font-size="21.2" text-anchor="end" textLength="44.0" lengthAdjust="spacingAndGlyphs" >8000</text>
<text x="94.4" y="914.1" font-size="21.2" text-anchor="end" textLength="55.0" lengthAdjust="spacingAndGlyphs" >10000</text>
<text x="94.4" y="865.3" font-size="21.2" text-anchor="end" textLength="55.0" lengthAdjust="spacingAndGlyphs" >12000</text>
<text x="94.4" y="816.5" font-size="21.2" text-anchor="end" textLength="55.0" lengthAdjust="spacingAndGlyphs" >14000</text>
<text x="94.4" y="767.7" font-size="21.2" text-anchor="end" textLength="55.0" lengthAdjust="spacingAndGlyphs" >16000</text>
<line x1="115.50" y1="1151.5" x2="115.50" y2="1157.0" stroke="#bdbdbd" stroke-width="2.0"/>
<line x1="150.39" y1="1151.5" x2="150.39" y2="1157.0" stroke="#bdbdbd" stroke-width="2.0"/>
<line x1="185.29" y1="1151.5" x2="185.29" y2="1157.0" stroke="#bdbdbd" stroke-width="2.0"/>
<line x1="220.18" y1="1151.5" x2="220.18" y2="1157.0" stroke="#bdbdbd" stroke-width="2.0"/>
<line x1="255.07" y1="1151.5" x2="255.07" y2="1157.0" stroke="#bdbdbd" stroke-width="2.0"/>
<line x1="289.96" y1="1151.5" x2="289.96" y2="1157.0" stroke="#bdbdbd" stroke-width="2.0"/>
<line x1="324.86" y1="1151.5" x2="324.86" y2="1157.0" stroke="#bdbdbd" stroke-width="2.0"/>
<line x1="359.75" y1="1151.5" x2="359.75" y2="1157.0" stroke="#bdbdbd" stroke-width="2.0"/>
<line x1="394.64" y1="1151.5" x2="394.64" y2="1157.0" stroke="#bdbdbd" stroke-width="2.0"/>
<line x1="429.54" y1="1151.5" x2="429.54" y2="1157.0" stroke="#bdbdbd" stroke-width="2.0"/>
<line x1="464.43" y1="1151.5" x2="464.43" y2="1157.0" stroke="#bdbdbd" stroke-width="2.0"/>
<line x1="499.32" y1="1151.5" x2="499.32" y2="1157.0" stroke="#bdbdbd" stroke-width="2.0"/>
<line x1="534.21" y1="1151.5" x2="534.21" y2="1157.0" stroke="#bdbdbd" stroke-width="2.0"/>
<line x1="569.11" y1="1151.5" x2="569.11" y2="1157.0" stroke="#bdbdbd" stroke-width="2.0"/>
<line x1="604.00" y1="1151.5" x2="604.00" y2="1157.0" stroke="#bdbdbd" stroke-width="2.0"/>
<text x="115.5" y="1187.7" font-size="21.2" text-anchor="middle" textLength="32.7" lengthAdjust="spacingAndGlyphs" >296</text>
<text x="185.3" y="1187.7" font-size="21.2" text-anchor="middle" textLength="32.7" lengthAdjust="spacingAndGlyphs" >294</text>
<text x="255.1" y="1187.7" font-size="21.2" text-anchor="middle" textLength="32.7" lengthAdjust="spacingAndGlyphs" >292</text>
<text x="324.9" y="1187.7" font-size="21.2" text-anchor="middle" textLength="32.7" lengthAdjust="spacingAndGlyphs" >290</text>
<text x="394.6" y="1187.7" font-size="21.2" text-anchor="middle" textLength="32.7" lengthAdjust="spacingAndGlyphs" >288</text>
<text x="464.4" y="1187.7" font-size="21.2" text-anchor="middle" textLength="32.7" lengthAdjust="spacingAndGlyphs" >286</text>
<text x="534.2" y="1187.7" font-size="21.2" text-anchor="middle" textLength="32.7" lengthAdjust="spacingAndGlyphs" >284</text>
<text x="604.0" y="1187.7" font-size="21.2" text-anchor="middle" textLength="32.7" lengthAdjust="spacingAndGlyphs" >282</text>
<text x="347.4" y="651.4" font-size="30.5" text-anchor="middle" textLength="34.5" lengthAdjust="spacingAndGlyphs" >(c)</text>
<text x="265.4" y="1222.7" font-size="23" text-anchor="start" textLength="83.0" lengthAdjust="spacingAndGlyphs" >Binding</text>
<text x="354.9" y="1222.7" font-size="23" text-anchor="start" textLength="74.7" lengthAdjust="spacingAndGlyphs" >energy</text>
<line x1="437.2" y1="1225.7" x2="445.3" y2="1205.3" stroke="#0d0d0d" stroke-width="2.6" stroke-linecap="butt"/>
<text x="453.6" y="1222.7" font-size="23" text-anchor="start" textLength="28.3" lengthAdjust="spacingAndGlyphs" >eV</text>
<text transform="translate(21.9,1047.2) rotate(-90)" font-size="22" x="-0.9" textLength="95.9" lengthAdjust="spacingAndGlyphs">Intensity</text>
<line x1="23.8" y1="944.3" x2="3.4" y2="936.9" stroke="#0d0d0d" stroke-width="2.6" stroke-linecap="butt"/>
<text transform="translate(21.9,1047.2) rotate(-90)" font-size="22" x="118.8" textLength="35.3" lengthAdjust="spacingAndGlyphs">cps</text>
<text x="130.6" y="807.6" font-size="31.5" text-anchor="start" textLength="47.5" lengthAdjust="spacingAndGlyphs" >C1s</text>
<text x="215.4" y="712.3" font-size="22" text-anchor="start" textLength="120.0" lengthAdjust="spacingAndGlyphs" >CF<tspan font-size="15" dy="3.5">2</tspan><tspan dy="-3.5"> in PVdF</tspan></text>
<text x="432.5" y="698.2" font-size="22.5" text-anchor="start" textLength="38.5" lengthAdjust="spacingAndGlyphs" >C-N</text>
<text x="556.2" y="716.7" font-size="22.5" text-anchor="start" textLength="36.5" lengthAdjust="spacingAndGlyphs" >C-C</text>
<text x="346.2" y="793.3" font-size="22" text-anchor="start" textLength="64.5" lengthAdjust="spacingAndGlyphs" >CH<tspan font-size="15" dy="3.5">2</tspan><tspan dy="-3.5"> in</tspan></text>
<text x="351.7" y="824.7" font-size="22" text-anchor="start" textLength="54.0" lengthAdjust="spacingAndGlyphs" >PVdF</text>
<line x1="278.7" y1="748.7" x2="278.7" y2="1150.0" stroke="#1a1a1a" stroke-width="2.3" stroke-dasharray="7.0 5.38" stroke-dashoffset="12.34"/>
<line x1="436.1" y1="748.7" x2="436.1" y2="1150.0" stroke="#1a1a1a" stroke-width="2.3" stroke-dasharray="7.0 5.38" stroke-dashoffset="12.34"/>
<line x1="457.2" y1="758.0" x2="457.2" y2="1150.0" stroke="#1a1a1a" stroke-width="2.3" stroke-dasharray="7.0 5.38" stroke-dashoffset="9.26"/>
<line x1="504.9" y1="758.5" x2="504.9" y2="1150.0" stroke="#1a1a1a" stroke-width="2.3" stroke-dasharray="7.0 5.38" stroke-dashoffset="9.76"/>
<line x1="450.4" y1="698.5" x2="456.7" y2="757.6" stroke="#111" stroke-width="2.0" stroke-linecap="round"/>
<polyline points="446.7,744.5 456.7,757.6 464.4,743.0" fill="none" stroke="#111" stroke-width="2.0" stroke-linecap="round" stroke-linejoin="miter"/>
<line x1="548.7" y1="709.2" x2="506.1" y2="757.5" stroke="#111" stroke-width="2.0" stroke-linecap="round"/>
<polyline points="509.2,742.2 506.1,757.5 522.0,753.5" fill="none" stroke="#111" stroke-width="2.0" stroke-linecap="round" stroke-linejoin="miter"/>
<line x1="388.2" y1="832.7" x2="432.6" y2="883.5" stroke="#111" stroke-width="2.0" stroke-linecap="round"/>
<polyline points="430.0,867.3 432.6,883.5 417.5,878.4" fill="none" stroke="#111" stroke-width="2.0" stroke-linecap="round" stroke-linejoin="miter"/>
<path d="M115.5,988.5 L116.7,988.2 L117.9,988.3 L119.1,988.0 L120.3,988.4 L121.5,988.6 L122.7,987.9 L123.9,987.5 L125.1,987.4 L126.3,986.9 L127.5,986.9 L128.7,986.9 L129.9,987.1 L131.1,987.3 L132.3,988.0 L133.5,987.4 L134.7,987.3 L135.9,986.3 L137.1,986.3 L138.3,986.6 L139.5,986.4 L140.7,986.8 L141.9,987.0 L143.1,986.9 L144.3,986.9 L145.5,986.4 L146.7,986.1 L147.9,986.2 L149.1,986.7 L150.3,986.4 L151.5,986.7 L152.7,986.6 L153.9,986.9 L155.1,986.6 L156.3,986.4 L157.5,986.2 L158.7,986.0 L159.9,985.7 L161.1,985.8 L162.3,985.7 L163.5,986.1 L164.7,986.0 L165.9,986.3 L167.1,986.1 L168.3,986.0 L169.5,986.0 L170.7,985.6 L171.9,985.7 L173.1,985.8 L174.3,985.7 L175.5,986.0 L176.7,986.3 L177.9,986.6 L179.1,986.7 L180.3,986.3 L181.5,985.8 L182.7,985.8 L183.9,985.6 L185.1,985.7 L186.3,985.7 L187.5,985.7 L188.7,986.1 L189.9,986.2 L191.1,986.3 L192.3,986.4 L193.5,986.2 L194.7,986.3 L195.9,985.9 L197.1,985.5 L198.3,985.4 L199.5,985.3 L200.7,985.5 L201.9,985.5 L203.1,985.9 L204.3,986.2 L205.5,986.4 L206.7,986.4 L207.9,985.9 L209.1,985.3 L210.3,985.3 L211.5,985.0 L212.7,985.0 L213.9,985.5 L215.1,985.4 L216.3,985.5 L217.5,985.6 L218.7,985.2 L219.9,985.2 L221.1,984.8 L222.3,985.1 L223.5,984.8 L224.7,984.6 L225.9,984.5 L227.1,984.1 L228.3,983.7 L229.5,982.7 L230.7,982.4 L231.9,981.7 L233.1,981.3 L234.3,981.2 L235.5,980.7 L236.7,980.0 L237.9,979.5 L239.1,978.3 L240.3,977.8 L241.5,976.7 L242.7,976.1 L243.9,975.4 L245.1,974.5 L246.3,973.7 L247.5,973.1 L248.7,972.2 L249.9,971.3 L251.1,970.6 L252.3,969.7 L253.5,968.7 L254.7,967.5 L255.9,966.4 L257.1,964.8 L258.3,963.3 L259.5,961.7 L260.7,960.2 L261.9,959.0 L263.1,957.5 L264.3,956.6 L265.5,955.6 L266.7,954.7 L267.9,954.1 L269.1,953.6 L270.3,952.4 L271.5,951.5 L272.7,950.6 L273.9,950.2 L275.1,949.6 L276.3,949.4 L277.5,949.2 L278.7,949.7 L279.9,949.6 L281.1,950.0 L282.3,950.4 L283.5,951.2 L284.7,951.9 L285.9,952.5 L287.1,953.2 L288.3,954.3 L289.5,954.9 L290.7,955.8 L291.9,956.9 L293.1,957.7 L294.3,958.9 L295.5,960.3 L296.7,961.7 L297.9,963.0 L299.1,964.1 L300.3,965.3 L301.5,966.0 L302.7,967.0 L303.9,968.2 L305.1,969.3 L306.3,970.5 L307.5,971.9 L308.7,972.8 L309.9,973.9 L311.1,974.5 L312.3,975.4 L313.5,976.0 L314.7,976.6 L315.9,977.0 L317.1,977.3 L318.3,977.9 L319.5,978.3 L320.7,978.5 L321.9,979.0 L323.1,979.8 L324.3,980.4 L325.5,980.6 L326.7,981.2 L327.9,981.6 L329.1,981.7 L330.3,981.8 L331.5,981.5 L332.7,981.5 L333.9,981.5 L335.1,981.0 L336.3,981.2 L337.5,981.2 L338.7,981.0 L339.9,981.3 L341.1,981.1 L342.3,981.1 L343.5,980.8 L344.7,980.5 L345.9,979.8 L347.1,979.5 L348.3,979.2 L349.5,978.9 L350.7,979.0 L351.9,978.6 L353.1,978.6 L354.3,978.4 L355.5,978.0 L356.7,977.8 L357.9,978.5 L359.1,978.5 L360.3,978.8 L361.5,978.9 L362.7,979.2 L363.9,979.4 L365.1,979.6 L366.3,979.6 L367.5,979.5 L368.7,979.1 L369.9,979.2 L371.1,978.8 L372.3,978.3 L373.5,978.2 L374.7,977.7 L375.9,977.3 L377.1,976.8 L378.3,976.3 L379.5,975.9 L380.7,975.4 L381.9,974.8 L383.1,974.7 L384.3,974.2 L385.5,974.0 L386.7,973.8 L387.9,973.7 L389.1,973.1 L390.3,972.4 L391.5,971.4 L392.7,970.9 L393.9,970.1 L395.1,969.7 L396.3,968.9 L397.5,968.2 L398.7,967.5 L399.9,966.5 L401.1,965.2 L402.3,964.1 L403.5,963.1 L404.7,961.9 L405.9,960.6 L407.1,959.3 L408.3,957.9 L409.5,956.6 L410.7,955.3 L411.9,954.2 L413.1,953.0 L414.3,951.8 L415.5,950.2 L416.7,949.0 L417.9,947.6 L419.1,946.1 L420.3,945.0 L421.5,943.6 L422.7,942.5 L423.9,941.2 L425.1,939.9 L426.3,938.8 L427.5,937.9 L428.7,937.3 L429.9,936.9 L431.1,936.8 L432.3,937.1 L433.5,937.0 L434.7,937.0 L435.9,936.8 L437.1,936.2 L438.3,935.2 L439.5,934.3 L440.7,933.7 L441.9,934.2 L443.1,935.0 L444.3,936.0 L445.5,937.2 L446.7,938.2 L447.9,939.2 L449.1,940.2 L450.3,940.9 L451.5,941.6 L452.7,942.0 L453.9,942.7 L455.1,943.5 L456.3,944.1 L457.5,944.5 L458.7,944.9 L459.9,945.2 L461.1,945.6 L462.3,946.0 L463.5,946.6 L464.7,946.9 L465.9,947.2 L467.1,946.7 L468.3,946.3 L469.5,945.8 L470.7,945.0 L471.9,943.8 L473.1,942.9 L474.3,941.3 L475.5,939.4 L476.7,937.0 L477.9,934.1 L479.1,931.1 L480.3,927.6 L481.5,924.1 L482.7,920.2 L483.9,915.9 L485.1,911.2 L486.3,906.2 L487.5,900.6 L488.7,894.7 L489.9,888.0 L491.1,880.7 L492.3,872.7 L493.5,864.2 L494.7,855.3 L495.9,846.0 L497.1,836.4 L498.3,826.5 L499.5,816.3 L500.7,806.3 L501.9,797.0 L503.1,789.0 L504.3,782.3 L505.5,777.6 L506.7,775.4 L507.9,775.7 L509.1,778.3 L510.3,783.0 L511.5,789.8 L512.7,798.5 L513.9,808.6 L515.1,819.7 L516.3,831.6 L517.5,844.0 L518.7,856.9 L519.9,869.7 L521.1,882.2 L522.3,894.1 L523.5,905.7 L524.7,916.4 L525.9,926.0 L527.1,934.6 L528.3,941.8 L529.5,948.2 L530.7,953.8 L531.9,958.7 L533.1,963.2 L534.3,966.9 L535.5,970.1 L536.7,973.0 L537.9,975.5 L539.1,977.9 L540.3,980.0 L541.5,981.8 L542.7,983.5 L543.9,985.1 L545.1,986.3 L546.3,987.6 L547.5,989.0 L548.7,990.3 L549.9,991.1 L551.1,992.3 L552.3,993.0 L553.5,993.6 L554.7,993.8 L555.9,994.1 L557.1,994.1 L558.3,994.3 L559.5,994.5 L560.7,994.9 L561.9,994.8 L563.1,995.3 L564.3,995.0 L565.5,994.7 L566.7,994.6 L567.9,994.5 L569.1,994.6 L570.3,994.8 L571.5,994.9 L572.7,995.1 L573.9,995.2 L575.1,995.5 L576.3,996.1 L577.5,996.0 L578.7,995.7 L579.9,995.2 L581.1,995.2 L582.3,995.6 L583.5,996.1 L584.7,995.9 L585.9,996.1 L587.1,996.1 L588.3,995.8 L589.5,996.0 L590.7,995.8 L591.9,996.0 L593.1,995.8 L594.3,995.9 L595.5,996.1 L596.7,996.4 L597.9,996.6 L599.1,996.9 L600.3,996.6 L601.5,996.6 L602.7,996.5 L603.9,996.1" fill="none" stroke="#0a0a0a" stroke-width="3.1" stroke-linejoin="round" stroke-linecap="round"/>
<path d="M115.9,1089.9 L117.1,1090.2 L118.3,1090.2 L119.5,1090.4 L120.7,1090.4 L121.9,1091.0 L123.1,1090.8 L124.3,1091.2 L125.5,1091.1 L126.7,1090.9 L127.9,1091.1 L129.1,1090.7 L130.3,1090.8 L131.5,1090.6 L132.7,1090.3 L133.9,1090.1 L135.1,1090.3 L136.3,1090.7 L137.5,1091.1 L138.7,1091.2 L139.9,1091.0 L141.1,1091.0 L142.3,1090.6 L143.5,1090.6 L144.7,1090.8 L145.9,1090.6 L147.1,1090.5 L148.3,1090.1 L149.5,1090.1 L150.7,1090.6 L151.9,1090.4 L153.1,1090.7 L154.3,1090.8 L155.5,1090.9 L156.7,1091.1 L157.9,1090.9 L159.1,1090.9 L160.3,1090.7 L161.5,1091.0 L162.7,1091.2 L163.9,1091.2 L165.1,1091.4 L166.3,1091.0 L167.5,1091.1 L168.7,1091.1 L169.9,1091.1 L171.1,1090.8 L172.3,1090.3 L173.5,1090.5 L174.7,1091.0 L175.9,1090.9 L177.1,1091.1 L178.3,1091.3 L179.5,1091.5 L180.7,1091.4 L181.9,1091.5 L183.1,1091.9 L184.3,1091.1 L185.5,1090.9 L186.7,1090.5 L187.9,1090.7 L189.1,1091.6 L190.3,1091.5 L191.5,1091.3 L192.7,1091.3 L193.9,1091.1 L195.1,1091.2 L196.3,1091.2 L197.5,1091.2 L198.7,1091.4 L199.9,1091.5 L201.1,1091.8 L202.3,1091.0 L203.5,1090.6 L204.7,1090.4 L205.9,1090.7 L207.1,1091.1 L208.3,1090.9 L209.5,1090.6 L210.7,1090.6 L211.9,1090.3 L213.1,1090.6 L214.3,1091.2 L215.5,1091.0 L216.7,1090.4 L217.9,1090.2 L219.1,1090.3 L220.3,1090.3 L221.5,1090.5 L222.7,1090.4 L223.9,1090.1 L225.1,1090.1 L226.3,1090.0 L227.5,1089.9 L228.7,1090.1 L229.9,1089.9 L231.1,1089.4 L232.3,1089.2 L233.5,1089.6 L234.7,1089.6 L235.9,1089.4 L237.1,1089.7 L238.3,1089.8 L239.5,1089.9 L240.7,1089.9 L241.9,1089.8 L243.1,1089.5 L244.3,1089.6 L245.5,1089.2 L246.7,1088.8 L247.9,1088.6 L249.1,1088.3 L250.3,1088.1 L251.5,1087.9 L252.7,1088.2 L253.9,1087.6 L255.1,1087.7 L256.3,1087.4 L257.5,1087.5 L258.7,1087.0 L259.9,1086.7 L261.1,1086.6 L262.3,1086.0 L263.5,1085.8 L264.7,1085.8 L265.9,1085.9 L267.1,1085.7 L268.3,1085.0 L269.5,1084.4 L270.7,1084.0 L271.9,1083.7 L273.1,1083.5 L274.3,1083.0 L275.5,1083.3 L276.7,1083.2 L277.9,1083.1 L279.1,1082.9 L280.3,1082.9 L281.5,1082.8 L282.7,1082.3 L283.9,1081.5 L285.1,1081.5 L286.3,1081.5 L287.5,1081.6 L288.7,1081.4 L289.9,1081.7 L291.1,1082.2 L292.3,1082.3 L293.5,1082.1 L294.7,1082.3 L295.9,1082.3 L297.1,1082.6 L298.3,1082.5 L299.5,1083.0 L300.7,1083.8 L301.9,1084.5 L303.1,1084.7 L304.3,1085.2 L305.5,1085.2 L306.7,1085.6 L307.9,1086.1 L309.1,1086.6 L310.3,1086.7 L311.5,1087.0 L312.7,1087.0 L313.9,1087.4 L315.1,1088.3 L316.3,1088.7 L317.5,1088.5 L318.7,1088.8 L319.9,1088.6 L321.1,1088.4 L322.3,1088.3 L323.5,1088.0 L324.7,1088.5 L325.9,1088.6 L327.1,1088.5 L328.3,1088.5 L329.5,1088.3 L330.7,1088.1 L331.9,1087.9 L333.1,1087.6 L334.3,1087.2 L335.5,1087.1 L336.7,1086.8 L337.9,1086.9 L339.1,1087.0 L340.3,1087.3 L341.5,1087.0 L342.7,1086.3 L343.9,1086.2 L345.1,1085.6 L346.3,1085.4 L347.5,1085.2 L348.7,1085.1 L349.9,1084.8 L351.1,1085.1 L352.3,1084.8 L353.5,1084.7 L354.7,1084.2 L355.9,1083.9 L357.1,1083.7 L358.3,1083.2 L359.5,1082.9 L360.7,1082.8 L361.9,1082.8 L363.1,1082.9 L364.3,1083.1 L365.5,1083.2 L366.7,1083.5 L367.9,1083.7 L369.1,1083.9 L370.3,1084.2 L371.5,1084.4 L372.7,1084.4 L373.9,1084.6 L375.1,1085.1 L376.3,1085.2 L377.5,1085.4 L378.7,1085.4 L379.9,1085.5 L381.1,1085.4 L382.3,1085.8 L383.5,1085.8 L384.7,1085.8 L385.9,1085.6 L387.1,1085.8 L388.3,1085.6 L389.5,1086.0 L390.7,1086.2 L391.9,1086.0 L393.1,1086.1 L394.3,1085.9 L395.5,1085.7 L396.7,1085.7 L397.9,1085.1 L399.1,1084.8 L400.3,1084.3 L401.5,1083.7 L402.7,1083.5 L403.9,1083.3 L405.1,1082.9 L406.3,1082.4 L407.5,1082.1 L408.7,1081.5 L409.9,1080.9 L411.1,1080.1 L412.3,1079.3 L413.5,1078.9 L414.7,1078.0 L415.9,1077.3 L417.1,1076.6 L418.3,1075.7 L419.5,1074.9 L420.7,1074.1 L421.9,1073.3 L423.1,1072.8 L424.3,1072.1 L425.5,1071.5 L426.7,1070.8 L427.9,1070.5 L429.1,1069.9 L430.3,1069.4 L431.5,1069.0 L432.7,1068.6 L433.9,1068.3 L435.1,1067.8 L436.3,1067.6 L437.5,1067.5 L438.7,1067.6 L439.9,1067.4 L441.1,1067.4 L442.3,1067.3 L443.5,1067.1 L444.7,1066.7 L445.9,1066.2 L447.1,1066.4 L448.3,1066.7 L449.5,1066.2 L450.7,1066.4 L451.9,1065.9 L453.1,1065.5 L454.3,1065.2 L455.5,1064.5 L456.7,1064.0 L457.9,1063.5 L459.1,1063.1 L460.3,1062.5 L461.5,1062.1 L462.7,1061.5 L463.9,1061.1 L465.1,1060.8 L466.3,1060.2 L467.5,1059.5 L468.7,1058.9 L469.9,1058.3 L471.1,1057.5 L472.3,1056.7 L473.5,1056.1 L474.7,1055.3 L475.9,1054.5 L477.1,1053.8 L478.3,1052.9 L479.5,1051.9 L480.7,1050.9 L481.9,1050.1 L483.1,1049.3 L484.3,1048.4 L485.5,1047.9 L486.7,1047.4 L487.9,1046.8 L489.1,1046.5 L490.3,1046.0 L491.5,1045.5 L492.7,1045.9 L493.9,1046.7 L495.1,1047.2 L496.3,1047.9 L497.5,1048.8 L498.7,1049.5 L499.9,1050.3 L501.1,1051.4 L502.3,1052.7 L503.5,1054.4 L504.7,1055.8 L505.9,1057.3 L507.1,1058.8 L508.3,1060.4 L509.5,1062.0 L510.7,1063.6 L511.9,1065.0 L513.1,1066.4 L514.3,1068.1 L515.5,1069.2 L516.7,1070.8 L517.9,1072.6 L519.1,1074.2 L520.3,1075.9 L521.5,1077.4 L522.7,1078.8 L523.9,1080.3 L525.1,1081.8 L526.3,1083.2 L527.5,1084.0 L528.7,1084.4 L529.9,1084.9 L531.1,1086.1 L532.3,1086.8 L533.5,1087.5 L534.7,1087.7 L535.9,1087.9 L537.1,1088.2 L538.3,1088.3 L539.5,1088.8 L540.7,1089.1 L541.9,1089.7 L543.1,1090.3 L544.3,1090.7 L545.5,1090.6 L546.7,1090.6 L547.9,1091.0 L549.1,1091.1 L550.3,1091.7 L551.5,1091.4 L552.7,1091.6 L553.9,1091.7 L555.1,1091.9 L556.3,1092.2 L557.5,1092.4 L558.7,1092.1 L559.9,1091.7 L561.1,1091.6 L562.3,1091.7 L563.5,1091.9 L564.7,1091.6 L565.9,1091.6 L567.1,1091.8 L568.3,1092.1 L569.5,1092.1 L570.7,1092.0 L571.9,1092.0 L573.1,1092.0 L574.3,1092.4 L575.5,1092.2 L576.7,1091.7 L577.9,1091.5 L579.1,1091.5 L580.3,1091.4 L581.5,1091.7 L582.7,1091.9 L583.9,1092.2 L585.1,1092.7 L586.3,1092.5 L587.5,1092.6 L588.7,1092.7 L589.9,1092.2 L591.1,1091.9 L592.3,1091.7 L593.5,1091.8 L594.7,1091.7 L595.9,1092.0 L597.1,1091.9 L598.3,1092.1 L599.5,1091.6 L600.7,1092.0 L601.9,1091.8 L603.1,1091.9" fill="none" stroke="#a8161f" stroke-width="3.1" stroke-linejoin="round" stroke-linecap="round"/>
<line x1="771.0" y1="755.9100000000001" x2="771.0" y2="1152.5" stroke="#bdbdbd" stroke-width="2.0"/>
<line x1="764.5" y1="1147.0" x2="1260.0" y2="1147.0" stroke="#bdbdbd" stroke-width="2.0"/>
<line x1="764.5" y1="1147.00" x2="771.0" y2="1147.00" stroke="#bdbdbd" stroke-width="2.0"/>
<line x1="764.5" y1="1091.13" x2="771.0" y2="1091.13" stroke="#bdbdbd" stroke-width="2.0"/>
<line x1="764.5" y1="1035.26" x2="771.0" y2="1035.26" stroke="#bdbdbd" stroke-width="2.0"/>
<line x1="764.5" y1="979.39" x2="771.0" y2="979.39" stroke="#bdbdbd" stroke-width="2.0"/>
<line x1="764.5" y1="923.52" x2="771.0" y2="923.52" stroke="#bdbdbd" stroke-width="2.0"/>
<line x1="764.5" y1="867.65" x2="771.0" y2="867.65" stroke="#bdbdbd" stroke-width="2.0"/>
<line x1="764.5" y1="811.78" x2="771.0" y2="811.78" stroke="#bdbdbd" stroke-width="2.0"/>
<line x1="764.5" y1="755.91" x2="771.0" y2="755.91" stroke="#bdbdbd" stroke-width="2.0"/>
<text x="751.8" y="1153.6" font-size="21.2" text-anchor="end" textLength="11.0" lengthAdjust="spacingAndGlyphs" >0</text>
<text x="751.8" y="1097.7" font-size="21.2" text-anchor="end" textLength="33.0" lengthAdjust="spacingAndGlyphs" >500</text>
<text x="751.8" y="1041.9" font-size="21.2" text-anchor="end" textLength="44.0" lengthAdjust="spacingAndGlyphs" >1000</text>
<text x="751.8" y="986.0" font-size="21.2" text-anchor="end" textLength="44.0" lengthAdjust="spacingAndGlyphs" >1500</text>
<text x="751.8" y="930.1" font-size="21.2" text-anchor="end" textLength="44.0" lengthAdjust="spacingAndGlyphs" >2000</text>
<text x="751.8" y="874.3" font-size="21.2" text-anchor="end" textLength="44.0" lengthAdjust="spacingAndGlyphs" >2500</text>
<text x="751.8" y="818.4" font-size="21.2" text-anchor="end" textLength="44.0" lengthAdjust="spacingAndGlyphs" >3000</text>
<text x="751.8" y="762.5" font-size="21.2" text-anchor="end" textLength="44.0" lengthAdjust="spacingAndGlyphs" >3500</text>
<line x1="771.00" y1="1147.0" x2="771.00" y2="1152.5" stroke="#bdbdbd" stroke-width="2.0"/>
<line x1="801.56" y1="1147.0" x2="801.56" y2="1152.5" stroke="#bdbdbd" stroke-width="2.0"/>
<line x1="832.12" y1="1147.0" x2="832.12" y2="1152.5" stroke="#bdbdbd" stroke-width="2.0"/>
<line x1="862.69" y1="1147.0" x2="862.69" y2="1152.5" stroke="#bdbdbd" stroke-width="2.0"/>
<line x1="893.25" y1="1147.0" x2="893.25" y2="1152.5" stroke="#bdbdbd" stroke-width="2.0"/>
<line x1="923.81" y1="1147.0" x2="923.81" y2="1152.5" stroke="#bdbdbd" stroke-width="2.0"/>
<line x1="954.38" y1="1147.0" x2="954.38" y2="1152.5" stroke="#bdbdbd" stroke-width="2.0"/>
<line x1="984.94" y1="1147.0" x2="984.94" y2="1152.5" stroke="#bdbdbd" stroke-width="2.0"/>
<line x1="1015.50" y1="1147.0" x2="1015.50" y2="1152.5" stroke="#bdbdbd" stroke-width="2.0"/>
<line x1="1046.06" y1="1147.0" x2="1046.06" y2="1152.5" stroke="#bdbdbd" stroke-width="2.0"/>
<line x1="1076.62" y1="1147.0" x2="1076.62" y2="1152.5" stroke="#bdbdbd" stroke-width="2.0"/>
<line x1="1107.19" y1="1147.0" x2="1107.19" y2="1152.5" stroke="#bdbdbd" stroke-width="2.0"/>
<line x1="1137.75" y1="1147.0" x2="1137.75" y2="1152.5" stroke="#bdbdbd" stroke-width="2.0"/>
<line x1="1168.31" y1="1147.0" x2="1168.31" y2="1152.5" stroke="#bdbdbd" stroke-width="2.0"/>
<line x1="1198.88" y1="1147.0" x2="1198.88" y2="1152.5" stroke="#bdbdbd" stroke-width="2.0"/>
<line x1="1229.44" y1="1147.0" x2="1229.44" y2="1152.5" stroke="#bdbdbd" stroke-width="2.0"/>
<line x1="1260.00" y1="1147.0" x2="1260.00" y2="1152.5" stroke="#bdbdbd" stroke-width="2.0"/>
<text x="771.0" y="1182.5" font-size="21.2" text-anchor="middle" textLength="32.7" lengthAdjust="spacingAndGlyphs" >176</text>
<text x="832.1" y="1182.5" font-size="21.2" text-anchor="middle" textLength="32.7" lengthAdjust="spacingAndGlyphs" >174</text>
<text x="893.2" y="1182.5" font-size="21.2" text-anchor="middle" textLength="32.7" lengthAdjust="spacingAndGlyphs" >172</text>
<text x="954.4" y="1182.5" font-size="21.2" text-anchor="middle" textLength="32.7" lengthAdjust="spacingAndGlyphs" >170</text>
<text x="1015.5" y="1182.5" font-size="21.2" text-anchor="middle" textLength="32.7" lengthAdjust="spacingAndGlyphs" >168</text>
<text x="1076.6" y="1182.5" font-size="21.2" text-anchor="middle" textLength="32.7" lengthAdjust="spacingAndGlyphs" >166</text>
<text x="1137.8" y="1182.5" font-size="21.2" text-anchor="middle" textLength="32.7" lengthAdjust="spacingAndGlyphs" >164</text>
<text x="1198.9" y="1182.5" font-size="21.2" text-anchor="middle" textLength="32.7" lengthAdjust="spacingAndGlyphs" >162</text>
<text x="1260.0" y="1182.5" font-size="21.2" text-anchor="middle" textLength="32.7" lengthAdjust="spacingAndGlyphs" >160</text>
<text x="1026.5" y="651.4" font-size="30.5" text-anchor="middle" textLength="39.0" lengthAdjust="spacingAndGlyphs" >(d)</text>
<text x="914.6" y="1223.6" font-size="23" text-anchor="start" textLength="83.0" lengthAdjust="spacingAndGlyphs" >Binding</text>
<text x="1004.1" y="1223.6" font-size="23" text-anchor="start" textLength="74.7" lengthAdjust="spacingAndGlyphs" >energy</text>
<line x1="1086.4" y1="1226.6" x2="1094.5" y2="1206.2" stroke="#0d0d0d" stroke-width="2.6" stroke-linecap="butt"/>
<text x="1102.8" y="1223.6" font-size="23" text-anchor="start" textLength="28.3" lengthAdjust="spacingAndGlyphs" >eV</text>
<text transform="translate(697.4,1070.8) rotate(-90)" font-size="22" x="-0.9" textLength="95.9" lengthAdjust="spacingAndGlyphs">Intensity</text>
<line x1="699.3" y1="967.9" x2="678.9" y2="960.5" stroke="#0d0d0d" stroke-width="2.6" stroke-linecap="butt"/>
<text transform="translate(697.4,1070.8) rotate(-90)" font-size="22" x="118.8" textLength="38.8" lengthAdjust="spacingAndGlyphs">a.u.</text>
<text x="783.3" y="805.5" font-size="31.5" text-anchor="start" textLength="50.0" lengthAdjust="spacingAndGlyphs" >S2p</text>
<text x="975.8" y="694.5" font-size="22.5" text-anchor="start" textLength="104.0" lengthAdjust="spacingAndGlyphs" >S-S*O<tspan font-size="12" dy="3">2</tspan><tspan dy="-3">-N</tspan><tspan font-size="14" dy="-10">−</tspan></text>
<text x="873.2" y="736.2" font-size="22.5" text-anchor="start" textLength="97.0" lengthAdjust="spacingAndGlyphs" >F-O<tspan font-size="12" dy="3">2</tspan><tspan dy="-3">S</tspan>*N<tspan font-size="14" dy="-10">−</tspan></text>
<text x="1125.5" y="687.3" font-size="22.5" text-anchor="start" textLength="13.0" lengthAdjust="spacingAndGlyphs" >S</text>
<text x="1187.3" y="694.3" font-size="22.5" text-anchor="start" textLength="87.5" lengthAdjust="spacingAndGlyphs" >Li<tspan font-size="14" dy="3.5">2</tspan><tspan dy="-3.5">S</tspan>/Li<tspan font-size="14" dy="3.5">x</tspan><tspan dy="-3.5">S</tspan></text>
<line x1="949.0" y1="749.1" x2="949.0" y2="1146.0" stroke="#1a1a1a" stroke-width="2.3" stroke-dasharray="7.0 5.38" stroke-dashoffset="12.34"/>
<line x1="988.1" y1="746.8" x2="988.1" y2="1146.0" stroke="#1a1a1a" stroke-width="2.3" stroke-dasharray="7.0 5.38" stroke-dashoffset="12.34"/>
<line x1="1026.7" y1="749.5" x2="1026.7" y2="1146.0" stroke="#1a1a1a" stroke-width="2.3" stroke-dasharray="7.0 5.38" stroke-dashoffset="2.66"/>
<line x1="1111.8" y1="745.2" x2="1111.8" y2="1146.0" stroke="#1a1a1a" stroke-width="2.3" stroke-dasharray="7.0 5.38" stroke-dashoffset="12.34"/>
<line x1="1147.3" y1="746.0" x2="1147.3" y2="1146.0" stroke="#1a1a1a" stroke-width="2.3" stroke-dasharray="7.0 5.38" stroke-dashoffset="0.76"/>
<line x1="1184.2" y1="751.0" x2="1184.2" y2="1146.0" stroke="#1a1a1a" stroke-width="2.3" stroke-dasharray="7.0 5.38" stroke-dashoffset="5.76"/>
<line x1="1005.1" y1="698.5" x2="988.4" y2="746.3" stroke="#111" stroke-width="2.0" stroke-linecap="round"/>
<polyline points="984.9,731.5 988.4,746.3 1001.4,736.6" fill="none" stroke="#111" stroke-width="2.0" stroke-linecap="round" stroke-linejoin="miter"/>
<line x1="1009.1" y1="702.2" x2="1023.0" y2="750.2" stroke="#111" stroke-width="2.0" stroke-linecap="round"/>
<polyline points="1027.3,735.2 1023.0,750.2 1010.2,738.9" fill="none" stroke="#111" stroke-width="2.0" stroke-linecap="round" stroke-linejoin="miter"/>
<line x1="1129.3" y1="695.2" x2="1112.8" y2="742.4" stroke="#111" stroke-width="2.0" stroke-linecap="round"/>
<polyline points="1108.8,727.6 1112.8,742.4 1125.0,733.3" fill="none" stroke="#111" stroke-width="2.0" stroke-linecap="round" stroke-linejoin="miter"/>
<line x1="1133.2" y1="698.6" x2="1146.6" y2="745.2" stroke="#111" stroke-width="2.0" stroke-linecap="round"/>
<polyline points="1151.4,731.9 1146.6,745.2 1134.4,735.6" fill="none" stroke="#111" stroke-width="2.0" stroke-linecap="round" stroke-linejoin="miter"/>
<line x1="1202.1" y1="702.5" x2="1184.5" y2="751.6" stroke="#111" stroke-width="2.0" stroke-linecap="round"/>
<polyline points="1181.4,734.9 1184.5,751.6 1197.6,740.3" fill="none" stroke="#111" stroke-width="2.0" stroke-linecap="round" stroke-linejoin="miter"/>
<path d="M772.2,892.3 L773.4,892.8 L774.6,893.1 L775.8,893.5 L777.0,893.0 L778.2,892.5 L779.4,892.5 L780.6,892.4 L781.8,892.8 L783.0,893.1 L784.2,893.0 L785.4,893.7 L786.6,893.7 L787.8,893.2 L789.0,892.9 L790.2,893.6 L791.4,893.7 L792.6,894.1 L793.8,894.3 L795.0,894.5 L796.2,894.7 L797.4,894.2 L798.6,894.2 L799.8,893.6 L801.0,893.6 L802.2,894.1 L803.4,893.9 L804.6,894.0 L805.8,893.7 L807.0,893.8 L808.2,893.9 L809.4,894.1 L810.6,893.8 L811.8,894.0 L813.0,893.9 L814.2,894.3 L815.4,894.5 L816.6,894.7 L817.8,894.6 L819.0,894.4 L820.2,893.9 L821.4,894.2 L822.6,894.6 L823.8,895.3 L825.0,895.0 L826.2,895.1 L827.4,894.6 L828.6,895.1 L829.8,895.2 L831.0,895.8 L832.2,895.5 L833.4,895.0 L834.6,894.9 L835.8,895.5 L837.0,895.3 L838.2,895.5 L839.4,895.8 L840.6,896.0 L841.8,895.7 L843.0,895.6 L844.2,895.5 L845.4,895.5 L846.6,895.6 L847.8,895.4 L849.0,895.2 L850.2,895.6 L851.4,895.4 L852.6,895.4 L853.8,895.6 L855.0,895.9 L856.2,895.9 L857.4,895.6 L858.6,895.7 L859.8,895.4 L861.0,895.7 L862.2,895.9 L863.4,895.7 L864.6,895.3 L865.8,894.9 L867.0,894.8 L868.2,894.9 L869.4,895.6 L870.6,895.3 L871.8,894.4 L873.0,893.8 L874.2,894.1 L875.4,893.7 L876.6,893.9 L877.8,893.6 L879.0,894.0 L880.2,893.9 L881.4,894.3 L882.6,894.0 L883.8,894.6 L885.0,894.7 L886.2,894.6 L887.4,894.8 L888.6,894.4 L889.8,894.0 L891.0,893.8 L892.2,894.0 L893.4,894.2 L894.6,894.3 L895.8,894.7 L897.0,895.0 L898.2,895.0 L899.4,894.9 L900.6,894.7 L901.8,894.6 L903.0,894.0 L904.2,893.8 L905.4,894.1 L906.6,894.1 L907.8,893.8 L909.0,894.4 L910.2,894.6 L911.4,894.6 L912.6,894.8 L913.8,894.2 L915.0,894.2 L916.2,894.1 L917.4,894.5 L918.6,894.2 L919.8,894.3 L921.0,894.2 L922.2,894.0 L923.4,894.0 L924.6,893.8 L925.8,893.8 L927.0,894.5 L928.2,894.8 L929.4,894.9 L930.6,894.8 L931.8,894.6 L933.0,894.1 L934.2,893.6 L935.4,893.1 L936.6,892.7 L937.8,892.6 L939.0,892.2 L940.2,892.3 L941.4,892.2 L942.6,892.1 L943.8,892.3 L945.0,892.1 L946.2,892.2 L947.4,891.9 L948.6,891.9 L949.8,891.5 L951.0,891.1 L952.2,891.2 L953.4,891.2 L954.6,890.8 L955.8,890.1 L957.0,890.1 L958.2,889.9 L959.4,889.6 L960.6,889.3 L961.8,889.4 L963.0,888.9 L964.2,888.5 L965.4,888.6 L966.6,889.1 L967.8,889.2 L969.0,888.9 L970.2,889.0 L971.4,889.2 L972.6,888.8 L973.8,888.9 L975.0,888.2 L976.2,888.5 L977.4,888.4 L978.6,888.5 L979.8,888.4 L981.0,888.4 L982.2,888.1 L983.4,888.1 L984.6,888.1 L985.8,888.0 L987.0,887.9 L988.2,888.3 L989.4,887.7 L990.6,887.6 L991.8,887.3 L993.0,887.1 L994.2,887.6 L995.4,888.0 L996.6,887.9 L997.8,888.1 L999.0,888.5 L1000.2,888.7 L1001.4,888.9 L1002.6,889.4 L1003.8,889.4 L1005.0,889.8 L1006.2,890.0 L1007.4,890.2 L1008.6,890.2 L1009.8,890.5 L1011.0,890.5 L1012.2,890.7 L1013.4,891.2 L1014.6,891.1 L1015.8,891.2 L1017.0,891.5 L1018.2,891.6 L1019.4,891.4 L1020.6,891.7 L1021.8,891.9 L1023.0,892.2 L1024.2,892.0 L1025.4,892.4 L1026.6,892.4 L1027.8,892.4 L1029.0,892.1 L1030.2,892.0 L1031.4,892.2 L1032.6,892.5 L1033.8,892.5 L1035.0,893.0 L1036.2,893.4 L1037.4,893.5 L1038.6,893.8 L1039.8,894.1 L1041.0,893.7 L1042.2,894.0 L1043.4,894.3 L1044.6,894.2 L1045.8,894.0 L1047.0,893.5 L1048.2,893.3 L1049.4,893.7 L1050.6,893.5 L1051.8,893.9 L1053.0,893.8 L1054.2,894.4 L1055.4,894.4 L1056.6,894.9 L1057.8,894.9 L1059.0,895.1 L1060.2,894.5 L1061.4,894.1 L1062.6,893.4 L1063.8,893.4 L1065.0,893.7 L1066.2,893.8 L1067.4,893.7 L1068.6,893.8 L1069.8,894.0 L1071.0,893.9 L1072.2,893.5 L1073.4,893.0 L1074.6,892.7 L1075.8,892.3 L1077.0,892.3 L1078.2,892.3 L1079.4,892.2 L1080.6,891.3 L1081.8,890.2 L1083.0,889.2 L1084.2,888.6 L1085.4,887.7 L1086.6,887.3 L1087.8,886.5 L1089.0,885.7 L1090.2,883.9 L1091.4,881.9 L1092.6,879.6 L1093.8,877.2 L1095.0,874.5 L1096.2,871.9 L1097.4,869.2 L1098.6,866.2 L1099.8,862.7 L1101.0,859.1 L1102.2,855.6 L1103.4,852.1 L1104.6,848.4 L1105.8,844.6 L1107.0,840.6 L1108.2,836.4 L1109.4,832.5 L1110.6,829.1 L1111.8,827.0 L1113.0,826.4 L1114.2,827.1 L1115.4,828.4 L1116.6,830.3 L1117.8,832.7 L1119.0,835.8 L1120.2,839.5 L1121.4,843.5 L1122.6,847.0 L1123.8,850.3 L1125.0,852.8 L1126.2,854.5 L1127.4,855.7 L1128.6,855.9 L1129.8,855.3 L1131.0,853.3 L1132.2,850.8 L1133.4,847.3 L1134.6,843.2 L1135.8,838.4 L1137.0,833.3 L1138.2,827.9 L1139.4,822.1 L1140.6,816.0 L1141.8,809.6 L1143.0,803.2 L1144.2,797.0 L1145.4,791.0 L1146.6,785.2 L1147.8,779.7 L1149.0,775.5 L1150.2,773.2 L1151.4,773.9 L1152.6,776.7 L1153.8,781.6 L1155.0,788.4 L1156.2,796.6 L1157.4,805.6 L1158.6,814.5 L1159.8,823.5 L1161.0,833.3 L1162.2,844.4 L1163.4,855.8 L1164.6,866.2 L1165.8,874.7 L1167.0,880.8 L1168.2,885.1 L1169.4,887.8 L1170.6,889.7 L1171.8,891.7 L1173.0,893.6 L1174.2,895.5 L1175.4,896.8 L1176.6,897.9 L1177.8,898.3 L1179.0,898.6 L1180.2,899.1 L1181.4,899.4 L1182.6,899.7 L1183.8,899.9 L1185.0,899.8 L1186.2,901.0 L1187.4,901.3 L1188.6,901.6 L1189.8,901.1 L1191.0,900.7 L1192.2,900.8 L1193.4,900.8 L1194.6,901.2 L1195.8,901.2 L1197.0,900.9 L1198.2,900.9 L1199.4,901.1 L1200.6,901.2 L1201.8,900.8 L1203.0,901.3 L1204.2,901.8 L1205.4,902.1 L1206.6,902.1 L1207.8,902.5 L1209.0,902.3 L1210.2,902.3 L1211.4,902.7 L1212.6,902.2 L1213.8,902.2 L1215.0,902.7 L1216.2,902.4 L1217.4,902.6 L1218.6,902.1 L1219.8,902.0 L1221.0,901.9 L1222.2,901.5 L1223.4,901.5 L1224.6,901.8 L1225.8,902.1 L1227.0,902.4 L1228.2,902.5 L1229.4,902.5 L1230.6,902.5 L1231.8,901.9 L1233.0,901.6 L1234.2,901.0 L1235.4,900.9 L1236.6,901.4 L1237.8,901.1 L1239.0,901.7 L1240.2,901.7 L1241.4,901.5 L1242.6,901.2 L1243.8,901.1 L1245.0,900.9 L1246.2,901.2 L1247.4,901.5 L1248.6,901.5 L1249.8,901.1 L1251.0,900.6 L1252.2,900.9 L1253.4,901.0 L1254.6,901.0 L1255.8,900.9 L1257.0,900.9 L1258.2,901.2 L1259.4,900.8" fill="none" stroke="#0a0a0a" stroke-width="3.1" stroke-linejoin="round" stroke-linecap="round"/>
<path d="M772.2,1070.3 L773.4,1070.1 L774.6,1070.1 L775.8,1069.9 L777.0,1070.2 L778.2,1070.2 L779.4,1069.9 L780.6,1069.8 L781.8,1070.0 L783.0,1069.6 L784.2,1069.6 L785.4,1069.9 L786.6,1070.2 L787.8,1069.8 L789.0,1070.1 L790.2,1070.5 L791.4,1070.8 L792.6,1071.6 L793.8,1071.6 L795.0,1071.6 L796.2,1071.6 L797.4,1071.6 L798.6,1071.5 L799.8,1072.1 L801.0,1071.5 L802.2,1071.1 L803.4,1070.7 L804.6,1071.6 L805.8,1072.3 L807.0,1072.6 L808.2,1072.8 L809.4,1072.7 L810.6,1072.8 L811.8,1072.3 L813.0,1072.2 L814.2,1071.9 L815.4,1072.2 L816.6,1071.8 L817.8,1072.0 L819.0,1071.9 L820.2,1072.4 L821.4,1072.5 L822.6,1072.3 L823.8,1072.6 L825.0,1072.9 L826.2,1072.9 L827.4,1073.1 L828.6,1073.0 L829.8,1073.0 L831.0,1073.4 L832.2,1073.4 L833.4,1073.2 L834.6,1073.0 L835.8,1073.2 L837.0,1073.6 L838.2,1074.0 L839.4,1073.8 L840.6,1073.6 L841.8,1073.3 L843.0,1073.1 L844.2,1073.2 L845.4,1073.8 L846.6,1073.7 L847.8,1073.5 L849.0,1073.6 L850.2,1074.0 L851.4,1073.8 L852.6,1074.0 L853.8,1074.4 L855.0,1074.7 L856.2,1074.8 L857.4,1074.3 L858.6,1074.2 L859.8,1073.8 L861.0,1074.0 L862.2,1074.5 L863.4,1074.6 L864.6,1074.7 L865.8,1074.7 L867.0,1074.5 L868.2,1073.9 L869.4,1073.8 L870.6,1073.7 L871.8,1074.1 L873.0,1074.7 L874.2,1074.3 L875.4,1074.2 L876.6,1073.7 L877.8,1073.6 L879.0,1073.2 L880.2,1073.1 L881.4,1073.2 L882.6,1073.4 L883.8,1073.9 L885.0,1073.6 L886.2,1073.2 L887.4,1073.3 L888.6,1072.7 L889.8,1072.7 L891.0,1072.3 L892.2,1071.7 L893.4,1070.9 L894.6,1070.1 L895.8,1070.0 L897.0,1069.2 L898.2,1068.8 L899.4,1068.5 L900.6,1068.1 L901.8,1067.3 L903.0,1066.5 L904.2,1065.7 L905.4,1064.6 L906.6,1063.4 L907.8,1062.4 L909.0,1061.4 L910.2,1060.2 L911.4,1058.9 L912.6,1057.3 L913.8,1055.8 L915.0,1054.2 L916.2,1052.5 L917.4,1051.3 L918.6,1050.0 L919.8,1048.3 L921.0,1046.3 L922.2,1044.3 L923.4,1042.4 L924.6,1040.6 L925.8,1038.9 L927.0,1037.0 L928.2,1035.0 L929.4,1033.1 L930.6,1031.4 L931.8,1029.9 L933.0,1028.6 L934.2,1027.2 L935.4,1025.9 L936.6,1024.6 L937.8,1023.3 L939.0,1021.8 L940.2,1020.6 L941.4,1019.8 L942.6,1019.3 L943.8,1018.3 L945.0,1017.4 L946.2,1016.4 L947.4,1015.3 L948.6,1014.4 L949.8,1013.2 L951.0,1012.0 L952.2,1011.1 L953.4,1009.6 L954.6,1008.1 L955.8,1006.6 L957.0,1005.0 L958.2,1003.1 L959.4,1001.4 L960.6,999.3 L961.8,996.8 L963.0,994.1 L964.2,990.8 L965.4,987.3 L966.6,983.3 L967.8,978.9 L969.0,973.9 L970.2,968.7 L971.4,963.3 L972.6,957.8 L973.8,953.0 L975.0,948.9 L976.2,945.7 L977.4,943.5 L978.6,941.2 L979.8,938.5 L981.0,935.1 L982.2,931.0 L983.4,926.9 L984.6,923.8 L985.8,922.3 L987.0,922.1 L988.2,922.9 L989.4,924.2 L990.6,926.0 L991.8,927.2 L993.0,928.2 L994.2,929.5 L995.4,931.2 L996.6,933.6 L997.8,936.7 L999.0,940.1 L1000.2,943.2 L1001.4,946.1 L1002.6,948.6 L1003.8,950.5 L1005.0,952.0 L1006.2,952.6 L1007.4,953.0 L1008.6,952.8 L1009.8,951.6 L1011.0,949.2 L1012.2,946.1 L1013.4,942.8 L1014.6,939.0 L1015.8,935.0 L1017.0,930.8 L1018.2,926.7 L1019.4,922.8 L1020.6,919.2 L1021.8,915.8 L1023.0,912.9 L1024.2,910.2 L1025.4,907.6 L1026.6,905.8 L1027.8,905.2 L1029.0,904.9 L1030.2,905.8 L1031.4,907.2 L1032.6,908.8 L1033.8,910.8 L1035.0,913.3 L1036.2,916.3 L1037.4,920.2 L1038.6,925.5 L1039.8,931.9 L1041.0,939.3 L1042.2,947.1 L1043.4,954.7 L1044.6,962.2 L1045.8,969.7 L1047.0,977.1 L1048.2,984.8 L1049.4,992.5 L1050.6,1000.3 L1051.8,1008.3 L1053.0,1016.3 L1054.2,1024.1 L1055.4,1031.7 L1056.6,1038.2 L1057.8,1043.6 L1059.0,1048.2 L1060.2,1052.0 L1061.4,1055.1 L1062.6,1057.6 L1063.8,1059.5 L1065.0,1060.8 L1066.2,1061.9 L1067.4,1063.3 L1068.6,1064.4 L1069.8,1065.4 L1071.0,1065.9 L1072.2,1066.6 L1073.4,1067.5 L1074.6,1067.9 L1075.8,1068.6 L1077.0,1068.7 L1078.2,1068.2 L1079.4,1068.1 L1080.6,1067.8 L1081.8,1067.1 L1083.0,1067.2 L1084.2,1067.1 L1085.4,1067.5 L1086.6,1067.4 L1087.8,1067.7 L1089.0,1067.3 L1090.2,1067.0 L1091.4,1067.2 L1092.6,1066.4 L1093.8,1066.2 L1095.0,1066.3 L1096.2,1066.1 L1097.4,1065.7 L1098.6,1065.3 L1099.8,1064.7 L1101.0,1064.1 L1102.2,1063.7 L1103.4,1063.4 L1104.6,1063.0 L1105.8,1062.5 L1107.0,1062.0 L1108.2,1061.1 L1109.4,1060.6 L1110.6,1059.7 L1111.8,1059.2 L1113.0,1058.5 L1114.2,1058.0 L1115.4,1057.0 L1116.6,1056.0 L1117.8,1055.1 L1119.0,1054.6 L1120.2,1053.9 L1121.4,1053.2 L1122.6,1052.5 L1123.8,1051.9 L1125.0,1051.0 L1126.2,1050.9 L1127.4,1050.6 L1128.6,1050.2 L1129.8,1050.3 L1131.0,1050.9 L1132.2,1050.7 L1133.4,1050.4 L1134.6,1050.2 L1135.8,1049.8 L1137.0,1049.8 L1138.2,1049.7 L1139.4,1049.6 L1140.6,1049.6 L1141.8,1050.2 L1143.0,1050.2 L1144.2,1049.8 L1145.4,1049.7 L1146.6,1049.1 L1147.8,1049.2 L1149.0,1049.0 L1150.2,1049.3 L1151.4,1049.4 L1152.6,1049.8 L1153.8,1050.0 L1155.0,1050.4 L1156.2,1050.6 L1157.4,1050.8 L1158.6,1051.6 L1159.8,1051.9 L1161.0,1052.1 L1162.2,1052.5 L1163.4,1052.0 L1164.6,1052.2 L1165.8,1051.4 L1167.0,1051.5 L1168.2,1050.7 L1169.4,1050.9 L1170.6,1050.4 L1171.8,1050.3 L1173.0,1049.5 L1174.2,1049.5 L1175.4,1049.4 L1176.6,1048.8 L1177.8,1048.7 L1179.0,1049.5 L1180.2,1050.2 L1181.4,1051.2 L1182.6,1051.8 L1183.8,1052.5 L1185.0,1052.9 L1186.2,1054.0 L1187.4,1055.2 L1188.6,1056.2 L1189.8,1057.0 L1191.0,1058.1 L1192.2,1059.0 L1193.4,1059.9 L1194.6,1060.9 L1195.8,1061.9 L1197.0,1063.0 L1198.2,1063.9 L1199.4,1065.1 L1200.6,1066.1 L1201.8,1066.9 L1203.0,1067.8 L1204.2,1068.6 L1205.4,1069.6 L1206.6,1070.5 L1207.8,1071.2 L1209.0,1072.4 L1210.2,1073.1 L1211.4,1073.9 L1212.6,1074.4 L1213.8,1074.5 L1215.0,1074.5 L1216.2,1074.6 L1217.4,1074.9 L1218.6,1075.0 L1219.8,1075.4 L1221.0,1075.7 L1222.2,1075.9 L1223.4,1076.1 L1224.6,1075.6 L1225.8,1075.8 L1227.0,1075.6 L1228.2,1075.9 L1229.4,1075.9 L1230.6,1075.9 L1231.8,1075.9 L1233.0,1076.0 L1234.2,1076.2 L1235.4,1076.5 L1236.6,1077.3 L1237.8,1077.5 L1239.0,1077.2 L1240.2,1076.9 L1241.4,1076.5 L1242.6,1076.8 L1243.8,1077.0 L1245.0,1077.1 L1246.2,1076.9 L1247.4,1077.2 L1248.6,1077.0 L1249.8,1077.2 L1251.0,1076.9 L1252.2,1076.9 L1253.4,1077.5 L1254.6,1077.9 L1255.8,1077.9 L1257.0,1077.8 L1258.2,1078.1 L1259.4,1077.7" fill="none" stroke="#a8161f" stroke-width="3.1" stroke-linejoin="round" stroke-linecap="round"/>
</svg>
</body></html>
